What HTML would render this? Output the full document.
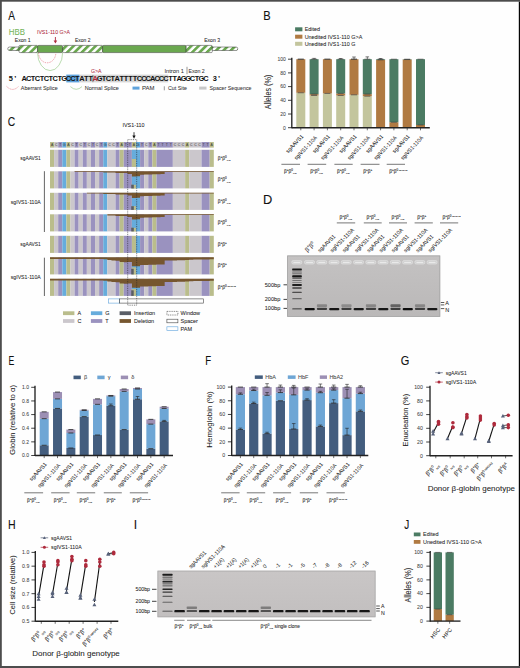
<!DOCTYPE html>
<html><head><meta charset="utf-8"><style>
html,body{margin:0;padding:0;background:#fff;width:520px;height:668px;overflow:hidden}
svg{display:block}
text{font-family:"Liberation Sans", sans-serif}
</style></head><body>
<svg width="520" height="668" viewBox="0 0 520 668">
<rect x="0" y="0" width="520" height="668" fill="#fefefe"/>
<text transform="translate(8.33,19.80) scale(0.828,1)" font-size="12.2" fill="#111" stroke="#111" stroke-width="0.1">A</text>
<text transform="translate(263.24,19.90) scale(0.909,1)" font-size="12.2" fill="#111" stroke="#111" stroke-width="0.1">B</text>
<text transform="translate(7.83,125.50) scale(0.842,1)" font-size="12.2" fill="#111" stroke="#111" stroke-width="0.1">C</text>
<text transform="translate(263.10,203.80) scale(1.052,1)" font-size="12.2" fill="#111" stroke="#111" stroke-width="0.1">D</text>
<text transform="translate(8.44,364.90) scale(0.711,1)" font-size="12.2" fill="#111" stroke="#111" stroke-width="0.1">E</text>
<text transform="translate(205.26,364.80) scale(0.788,1)" font-size="12.2" fill="#111" stroke="#111" stroke-width="0.1">F</text>
<text transform="translate(400.80,365.20) scale(0.904,1)" font-size="12.2" fill="#111" stroke="#111" stroke-width="0.1">G</text>
<text transform="translate(8.08,528.90) scale(0.865,1)" font-size="12.2" fill="#111" stroke="#111" stroke-width="0.1">H</text>
<text transform="translate(133.73,528.80) scale(1.000,1)" font-size="12.2" fill="#111" stroke="#111" stroke-width="0.1">I</text>
<text transform="translate(404.29,528.90) scale(0.820,1)" font-size="12.2" fill="#111" stroke="#111" stroke-width="0.1">J</text>
<text x="8.70" y="34.60" font-size="9.3" fill="#72b257" stroke="#72b257" stroke-width="0.05" textLength="16.20" lengthAdjust="spacingAndGlyphs" >HBB</text>
<text x="37.00" y="34.40" font-size="5.6" fill="#ae2a3c" stroke="#ae2a3c" stroke-width="0.05" textLength="33.00" lengthAdjust="spacingAndGlyphs" >IVS1-110 G&gt;A</text>
<line x1="55.40" y1="37.00" x2="55.40" y2="41.50" stroke="#ae2a3c" stroke-width="0.9" />
<path d="M53.6,40.6 L57.2,40.6 L55.4,43.6 Z" fill="#ae2a3c"/>
<text x="14.80" y="41.50" font-size="5.6" fill="#222" stroke="#222" stroke-width="0.05" textLength="15.90" lengthAdjust="spacingAndGlyphs" >Exon 1</text>
<text x="75.00" y="41.50" font-size="5.6" fill="#222" stroke="#222" stroke-width="0.05" textLength="15.50" lengthAdjust="spacingAndGlyphs" >Exon 2</text>
<text x="204.20" y="41.70" font-size="5.6" fill="#222" stroke="#222" stroke-width="0.05" textLength="15.80" lengthAdjust="spacingAndGlyphs" >Exon 3</text>
<defs>
<pattern id="hatch" patternUnits="userSpaceOnUse" width="5.2" height="5.2" patternTransform="rotate(45)">
<rect x="0" y="0" width="5.2" height="5.2" fill="#ffffff"/>
<rect x="0" y="0" width="2.7" height="5.2" fill="#6aa84f"/>
</pattern>
</defs>
<path d="M19.5,47.0 L9.5,47.0 A1.75,1.75 0 0 0 9.5,50.5 L19.5,50.5 Z" fill="url(#hatch)" stroke="#333" stroke-width="0.5"/>
<rect x="19" y="45.4" width="18.6" height="7.20" rx="1" fill="url(#hatch)" stroke="#333" stroke-width="0.5"/>
<rect x="37.6" y="45.4" width="25" height="7.20" rx="1.2" fill="#6aa84f" stroke="#333" stroke-width="0.5"/>
<rect x="62.6" y="45.4" width="40" height="7.20" rx="1" fill="url(#hatch)" stroke="#333" stroke-width="0.5"/>
<rect x="102.6" y="45.4" width="83.6" height="7.20" rx="1.2" fill="#6aa84f" stroke="#333" stroke-width="0.5"/>
<rect x="186.2" y="45.4" width="26.1" height="7.20" rx="1" fill="url(#hatch)" stroke="#333" stroke-width="0.5"/>
<path d="M212.3,47.0 L236,47.0 A1.75,1.75 0 0 1 236,50.5 L212.3,50.5 Z" fill="url(#hatch)" stroke="#333" stroke-width="0.5"/>
<path d="M37.6,52.8 A12.5,17.8 0 0 0 62.6,52.8" fill="none" stroke="#8cc47a" stroke-width="0.6"/>
<path d="M38.6,52.8 A8.6,10 0 0 0 55.8,52.8" fill="none" stroke="#e06070" stroke-width="0.6" stroke-dasharray="1.4,1"/>
<rect x="66.30" y="74.60" width="13.30" height="7.80" fill="#5fa3dc" />
<rect x="79.60" y="74.60" width="88.60" height="7.80" fill="#d6d6d6" />
<text x="10.91" y="81.0" font-size="7.4" font-family='"Liberation Mono", monospace' font-weight="bold" text-anchor="middle" fill="#111">5</text>
<text x="15.34" y="81.0" font-size="7.4" font-family='"Liberation Mono", monospace' font-weight="bold" text-anchor="middle" fill="#111">&#8217;</text>
<text x="24.20" y="81.0" font-size="7.4" font-family='"Liberation Mono", monospace' font-weight="bold" text-anchor="middle" fill="#111">A</text>
<text x="28.63" y="81.0" font-size="7.4" font-family='"Liberation Mono", monospace' font-weight="bold" text-anchor="middle" fill="#111">C</text>
<text x="33.06" y="81.0" font-size="7.4" font-family='"Liberation Mono", monospace' font-weight="bold" text-anchor="middle" fill="#111">T</text>
<text x="37.50" y="81.0" font-size="7.4" font-family='"Liberation Mono", monospace' font-weight="bold" text-anchor="middle" fill="#111">C</text>
<text x="41.92" y="81.0" font-size="7.4" font-family='"Liberation Mono", monospace' font-weight="bold" text-anchor="middle" fill="#111">T</text>
<text x="46.36" y="81.0" font-size="7.4" font-family='"Liberation Mono", monospace' font-weight="bold" text-anchor="middle" fill="#111">C</text>
<text x="50.78" y="81.0" font-size="7.4" font-family='"Liberation Mono", monospace' font-weight="bold" text-anchor="middle" fill="#111">T</text>
<text x="55.22" y="81.0" font-size="7.4" font-family='"Liberation Mono", monospace' font-weight="bold" text-anchor="middle" fill="#111">C</text>
<text x="59.64" y="81.0" font-size="7.4" font-family='"Liberation Mono", monospace' font-weight="bold" text-anchor="middle" fill="#111">T</text>
<text x="64.08" y="81.0" font-size="7.4" font-family='"Liberation Mono", monospace' font-weight="bold" text-anchor="middle" fill="#111">G</text>
<text x="68.50" y="81.0" font-size="7.4" font-family='"Liberation Mono", monospace' font-weight="bold" text-anchor="middle" fill="#111">C</text>
<text x="72.94" y="81.0" font-size="7.4" font-family='"Liberation Mono", monospace' font-weight="bold" text-anchor="middle" fill="#111">C</text>
<text x="77.36" y="81.0" font-size="7.4" font-family='"Liberation Mono", monospace' font-weight="bold" text-anchor="middle" fill="#111">T</text>
<text x="81.80" y="81.0" font-size="7.4" font-family='"Liberation Mono", monospace' font-weight="bold" text-anchor="middle" fill="#111">A</text>
<text x="86.23" y="81.0" font-size="7.4" font-family='"Liberation Mono", monospace' font-weight="bold" text-anchor="middle" fill="#111">T</text>
<text x="90.66" y="81.0" font-size="7.4" font-family='"Liberation Mono", monospace' font-weight="bold" text-anchor="middle" fill="#111">T</text>
<text x="95.08" y="81.0" font-size="7.4" font-family='"Liberation Mono", monospace' font-weight="bold" text-anchor="middle" fill="#ae2a3c">A</text>
<text x="99.52" y="81.0" font-size="7.4" font-family='"Liberation Mono", monospace' font-weight="bold" text-anchor="middle" fill="#111">G</text>
<text x="103.95" y="81.0" font-size="7.4" font-family='"Liberation Mono", monospace' font-weight="bold" text-anchor="middle" fill="#111">T</text>
<text x="108.38" y="81.0" font-size="7.4" font-family='"Liberation Mono", monospace' font-weight="bold" text-anchor="middle" fill="#111">C</text>
<text x="112.80" y="81.0" font-size="7.4" font-family='"Liberation Mono", monospace' font-weight="bold" text-anchor="middle" fill="#111">T</text>
<text x="117.23" y="81.0" font-size="7.4" font-family='"Liberation Mono", monospace' font-weight="bold" text-anchor="middle" fill="#111">A</text>
<text x="121.67" y="81.0" font-size="7.4" font-family='"Liberation Mono", monospace' font-weight="bold" text-anchor="middle" fill="#111">T</text>
<text x="126.09" y="81.0" font-size="7.4" font-family='"Liberation Mono", monospace' font-weight="bold" text-anchor="middle" fill="#111">T</text>
<text x="130.52" y="81.0" font-size="7.4" font-family='"Liberation Mono", monospace' font-weight="bold" text-anchor="middle" fill="#111">T</text>
<text x="134.95" y="81.0" font-size="7.4" font-family='"Liberation Mono", monospace' font-weight="bold" text-anchor="middle" fill="#111">T</text>
<text x="139.38" y="81.0" font-size="7.4" font-family='"Liberation Mono", monospace' font-weight="bold" text-anchor="middle" fill="#111">C</text>
<text x="143.81" y="81.0" font-size="7.4" font-family='"Liberation Mono", monospace' font-weight="bold" text-anchor="middle" fill="#111">C</text>
<text x="148.24" y="81.0" font-size="7.4" font-family='"Liberation Mono", monospace' font-weight="bold" text-anchor="middle" fill="#111">C</text>
<text x="152.67" y="81.0" font-size="7.4" font-family='"Liberation Mono", monospace' font-weight="bold" text-anchor="middle" fill="#111">A</text>
<text x="157.10" y="81.0" font-size="7.4" font-family='"Liberation Mono", monospace' font-weight="bold" text-anchor="middle" fill="#111">C</text>
<text x="161.53" y="81.0" font-size="7.4" font-family='"Liberation Mono", monospace' font-weight="bold" text-anchor="middle" fill="#111">C</text>
<text x="165.96" y="81.0" font-size="7.4" font-family='"Liberation Mono", monospace' font-weight="bold" text-anchor="middle" fill="#111">C</text>
<text x="170.39" y="81.0" font-size="7.4" font-family='"Liberation Mono", monospace' font-weight="bold" text-anchor="middle" fill="#111">T</text>
<text x="174.82" y="81.0" font-size="7.4" font-family='"Liberation Mono", monospace' font-weight="bold" text-anchor="middle" fill="#111">T</text>
<text x="179.25" y="81.0" font-size="7.4" font-family='"Liberation Mono", monospace' font-weight="bold" text-anchor="middle" fill="#111">A</text>
<text x="183.68" y="81.0" font-size="7.4" font-family='"Liberation Mono", monospace' font-weight="bold" text-anchor="middle" fill="#111">G</text>
<text x="188.11" y="81.0" font-size="7.4" font-family='"Liberation Mono", monospace' font-weight="bold" text-anchor="middle" fill="#111">G</text>
<text x="192.54" y="81.0" font-size="7.4" font-family='"Liberation Mono", monospace' font-weight="bold" text-anchor="middle" fill="#111">C</text>
<text x="196.97" y="81.0" font-size="7.4" font-family='"Liberation Mono", monospace' font-weight="bold" text-anchor="middle" fill="#111">T</text>
<text x="201.40" y="81.0" font-size="7.4" font-family='"Liberation Mono", monospace' font-weight="bold" text-anchor="middle" fill="#111">G</text>
<text x="205.83" y="81.0" font-size="7.4" font-family='"Liberation Mono", monospace' font-weight="bold" text-anchor="middle" fill="#111">C</text>
<text x="214.69" y="81.0" font-size="7.4" font-family='"Liberation Mono", monospace' font-weight="bold" text-anchor="middle" fill="#111">3</text>
<text x="219.12" y="81.0" font-size="7.4" font-family='"Liberation Mono", monospace' font-weight="bold" text-anchor="middle" fill="#111">&#8217;</text>
<line x1="92.90" y1="75.00" x2="92.90" y2="82.20" stroke="#333" stroke-width="0.5" />
<text x="91.00" y="73.30" font-size="5.0" fill="#ae2a3c" stroke="#ae2a3c" stroke-width="0.05" textLength="10.50" lengthAdjust="spacingAndGlyphs" >G&gt;A</text>
<text x="164.50" y="73.30" font-size="5.5" fill="#333" stroke="#333" stroke-width="0.05" textLength="19.30" lengthAdjust="spacingAndGlyphs" >Intron 1</text>
<line x1="187.00" y1="66.80" x2="187.00" y2="74.20" stroke="#333" stroke-width="0.5" />
<text x="188.40" y="73.30" font-size="5.5" fill="#333" stroke="#333" stroke-width="0.05" textLength="16.30" lengthAdjust="spacingAndGlyphs" >Exon 2</text>
<path d="M6.6,86.4 Q12.6,92.4 18.6,86.4" fill="none" stroke="#e06070" stroke-width="0.6" stroke-dasharray="1.3,0.9"/>
<text x="20.80" y="90.00" font-size="5.6" fill="#333" stroke="#333" stroke-width="0.05" textLength="36.90" lengthAdjust="spacingAndGlyphs" >Aberrant Splice</text>
<path d="M70.4,86.6 Q76.2,92 82,86.6" fill="none" stroke="#8cc47a" stroke-width="0.6"/>
<text x="84.70" y="90.00" font-size="5.6" fill="#333" stroke="#333" stroke-width="0.05" textLength="34.20" lengthAdjust="spacingAndGlyphs" >Normal Splice</text>
<rect x="132.50" y="86.60" width="7.00" height="3.00" fill="#5fa3dc" />
<text x="142.00" y="90.00" font-size="5.6" fill="#333" stroke="#333" stroke-width="0.05" textLength="12.50" lengthAdjust="spacingAndGlyphs" >PAM</text>
<line x1="164.30" y1="86.30" x2="164.30" y2="90.30" stroke="#333" stroke-width="0.5" />
<text x="168.00" y="90.00" font-size="5.6" fill="#333" stroke="#333" stroke-width="0.05" textLength="19.00" lengthAdjust="spacingAndGlyphs" >Cut Site</text>
<rect x="199.20" y="86.60" width="7.30" height="3.00" fill="#c8c8c8" />
<text x="209.50" y="90.00" font-size="5.6" fill="#333" stroke="#333" stroke-width="0.05" textLength="42.00" lengthAdjust="spacingAndGlyphs" >Spacer Sequence</text>
<rect x="295.10" y="27.30" width="7.30" height="4.00" fill="#4b7b63" />
<text x="304.70" y="31.20" font-size="5.4" fill="#222" stroke="#222" stroke-width="0.05" >Edited</text>
<rect x="295.10" y="34.70" width="7.30" height="4.00" fill="#b07a42" />
<text x="304.70" y="38.60" font-size="5.4" fill="#222" stroke="#222" stroke-width="0.05" >Unedited IVS1-110 G&gt;A</text>
<rect x="295.10" y="41.80" width="7.30" height="4.00" fill="#c3c59d" />
<text x="304.70" y="45.70" font-size="5.4" fill="#222" stroke="#222" stroke-width="0.05" >Unedited IVS1-110 G</text>
<rect x="296.30" y="92.77" width="9.00" height="34.94" fill="#c3c59d" />
<rect x="296.30" y="59.20" width="9.00" height="33.57" fill="#b07a42" />
<line x1="297.80" y1="92.77" x2="303.80" y2="92.77" stroke="#333" stroke-width="0.6" />
<line x1="297.80" y1="59.20" x2="303.80" y2="59.20" stroke="#333" stroke-width="0.6" />
<line x1="297.80" y1="59.20" x2="303.80" y2="59.20" stroke="#333" stroke-width="0.6" />
<line x1="300.80" y1="127.70" x2="300.80" y2="130.30" stroke="#111" stroke-width="0.6" />
<rect x="309.60" y="95.50" width="9.00" height="32.20" fill="#c3c59d" />
<rect x="309.60" y="94.13" width="9.00" height="1.37" fill="#b07a42" />
<rect x="309.60" y="59.20" width="9.00" height="34.94" fill="#4b7b63" />
<line x1="311.10" y1="95.50" x2="317.10" y2="95.50" stroke="#333" stroke-width="0.6" />
<line x1="311.10" y1="94.13" x2="317.10" y2="94.13" stroke="#333" stroke-width="0.6" />
<line x1="311.10" y1="59.20" x2="317.10" y2="59.20" stroke="#333" stroke-width="0.6" />
<line x1="314.10" y1="127.70" x2="314.10" y2="130.30" stroke="#111" stroke-width="0.6" />
<line x1="314.10" y1="59.20" x2="314.10" y2="58.38" stroke="#222" stroke-width="0.6" />
<line x1="312.30" y1="58.38" x2="315.90" y2="58.38" stroke="#222" stroke-width="0.6" />
<rect x="322.90" y="93.45" width="9.00" height="34.25" fill="#c3c59d" />
<rect x="322.90" y="59.20" width="9.00" height="34.25" fill="#b07a42" />
<line x1="324.40" y1="93.45" x2="330.40" y2="93.45" stroke="#333" stroke-width="0.6" />
<line x1="324.40" y1="59.20" x2="330.40" y2="59.20" stroke="#333" stroke-width="0.6" />
<line x1="324.40" y1="59.20" x2="330.40" y2="59.20" stroke="#333" stroke-width="0.6" />
<line x1="327.40" y1="127.70" x2="327.40" y2="130.30" stroke="#111" stroke-width="0.6" />
<rect x="336.20" y="95.50" width="9.00" height="32.20" fill="#c3c59d" />
<rect x="336.20" y="93.45" width="9.00" height="2.06" fill="#b07a42" />
<rect x="336.20" y="59.20" width="9.00" height="34.25" fill="#4b7b63" />
<line x1="337.70" y1="95.50" x2="343.70" y2="95.50" stroke="#333" stroke-width="0.6" />
<line x1="337.70" y1="93.45" x2="343.70" y2="93.45" stroke="#333" stroke-width="0.6" />
<line x1="337.70" y1="59.20" x2="343.70" y2="59.20" stroke="#333" stroke-width="0.6" />
<line x1="340.70" y1="127.70" x2="340.70" y2="130.30" stroke="#111" stroke-width="0.6" />
<line x1="340.70" y1="59.20" x2="340.70" y2="58.52" stroke="#222" stroke-width="0.6" />
<line x1="338.90" y1="58.52" x2="342.50" y2="58.52" stroke="#222" stroke-width="0.6" />
<rect x="349.50" y="94.82" width="9.00" height="32.88" fill="#c3c59d" />
<rect x="349.50" y="59.20" width="9.00" height="35.62" fill="#b07a42" />
<line x1="351.00" y1="94.82" x2="357.00" y2="94.82" stroke="#333" stroke-width="0.6" />
<line x1="351.00" y1="59.20" x2="357.00" y2="59.20" stroke="#333" stroke-width="0.6" />
<line x1="351.00" y1="59.20" x2="357.00" y2="59.20" stroke="#333" stroke-width="0.6" />
<line x1="354.00" y1="127.70" x2="354.00" y2="130.30" stroke="#111" stroke-width="0.6" />
<line x1="354.00" y1="59.20" x2="354.00" y2="57.01" stroke="#222" stroke-width="0.6" />
<line x1="352.20" y1="57.01" x2="355.80" y2="57.01" stroke="#222" stroke-width="0.6" />
<rect x="362.80" y="96.19" width="9.00" height="31.51" fill="#c3c59d" />
<rect x="362.80" y="94.13" width="9.00" height="2.06" fill="#b07a42" />
<rect x="362.80" y="59.20" width="9.00" height="34.94" fill="#4b7b63" />
<line x1="364.30" y1="96.19" x2="370.30" y2="96.19" stroke="#333" stroke-width="0.6" />
<line x1="364.30" y1="94.13" x2="370.30" y2="94.13" stroke="#333" stroke-width="0.6" />
<line x1="364.30" y1="59.20" x2="370.30" y2="59.20" stroke="#333" stroke-width="0.6" />
<line x1="367.30" y1="127.70" x2="367.30" y2="130.30" stroke="#111" stroke-width="0.6" />
<line x1="367.30" y1="59.20" x2="367.30" y2="56.87" stroke="#222" stroke-width="0.6" />
<line x1="365.50" y1="56.87" x2="369.10" y2="56.87" stroke="#222" stroke-width="0.6" />
<rect x="376.10" y="59.88" width="9.00" height="67.82" fill="#b07a42" />
<rect x="376.10" y="59.20" width="9.00" height="0.69" fill="#4b7b63" />
<line x1="377.60" y1="59.88" x2="383.60" y2="59.88" stroke="#333" stroke-width="0.6" />
<line x1="377.60" y1="59.20" x2="383.60" y2="59.20" stroke="#333" stroke-width="0.6" />
<line x1="380.60" y1="127.70" x2="380.60" y2="130.30" stroke="#111" stroke-width="0.6" />
<line x1="380.60" y1="59.20" x2="380.60" y2="58.52" stroke="#222" stroke-width="0.6" />
<line x1="378.80" y1="58.52" x2="382.40" y2="58.52" stroke="#222" stroke-width="0.6" />
<rect x="389.40" y="122.22" width="9.00" height="5.48" fill="#b07a42" />
<rect x="389.40" y="59.20" width="9.00" height="63.02" fill="#4b7b63" />
<line x1="390.90" y1="122.22" x2="396.90" y2="122.22" stroke="#333" stroke-width="0.6" />
<line x1="390.90" y1="59.20" x2="396.90" y2="59.20" stroke="#333" stroke-width="0.6" />
<line x1="393.90" y1="127.70" x2="393.90" y2="130.30" stroke="#111" stroke-width="0.6" />
<rect x="402.70" y="59.54" width="9.00" height="68.16" fill="#b07a42" />
<rect x="402.70" y="59.20" width="9.00" height="0.34" fill="#4b7b63" />
<line x1="404.20" y1="59.54" x2="410.20" y2="59.54" stroke="#333" stroke-width="0.6" />
<line x1="404.20" y1="59.20" x2="410.20" y2="59.20" stroke="#333" stroke-width="0.6" />
<line x1="407.20" y1="127.70" x2="407.20" y2="130.30" stroke="#111" stroke-width="0.6" />
<rect x="416.00" y="124.96" width="9.00" height="2.74" fill="#b07a42" />
<rect x="416.00" y="59.20" width="9.00" height="65.76" fill="#4b7b63" />
<line x1="417.50" y1="124.96" x2="423.50" y2="124.96" stroke="#333" stroke-width="0.6" />
<line x1="417.50" y1="59.20" x2="423.50" y2="59.20" stroke="#333" stroke-width="0.6" />
<line x1="420.50" y1="127.70" x2="420.50" y2="130.30" stroke="#111" stroke-width="0.6" />
<line x1="291.80" y1="57.70" x2="291.80" y2="128.30" stroke="#222" stroke-width="1.35" />
<line x1="288.00" y1="127.70" x2="291.80" y2="127.70" stroke="#111" stroke-width="0.8" />
<text x="285.80" y="129.50" font-size="5.0" fill="#444" stroke="#444" stroke-width="0.05" text-anchor="end" >0</text>
<line x1="288.00" y1="114.00" x2="291.80" y2="114.00" stroke="#111" stroke-width="0.8" />
<text x="285.80" y="115.80" font-size="5.0" fill="#444" stroke="#444" stroke-width="0.05" text-anchor="end" >20</text>
<line x1="288.00" y1="100.30" x2="291.80" y2="100.30" stroke="#111" stroke-width="0.8" />
<text x="285.80" y="102.10" font-size="5.0" fill="#444" stroke="#444" stroke-width="0.05" text-anchor="end" >40</text>
<line x1="288.00" y1="86.60" x2="291.80" y2="86.60" stroke="#111" stroke-width="0.8" />
<text x="285.80" y="88.40" font-size="5.0" fill="#444" stroke="#444" stroke-width="0.05" text-anchor="end" >60</text>
<line x1="288.00" y1="72.90" x2="291.80" y2="72.90" stroke="#111" stroke-width="0.8" />
<text x="285.80" y="74.70" font-size="5.0" fill="#444" stroke="#444" stroke-width="0.05" text-anchor="end" >80</text>
<line x1="288.00" y1="59.20" x2="291.80" y2="59.20" stroke="#111" stroke-width="0.8" />
<text x="285.80" y="61.00" font-size="5.0" fill="#444" stroke="#444" stroke-width="0.05" text-anchor="end" >100</text>
<line x1="291.80" y1="127.70" x2="429.80" y2="127.70" stroke="#222" stroke-width="1.35" />
<text transform="translate(271.00,92.00) rotate(-90)" font-size="8.6" fill="#222" stroke="#222" stroke-width="0.05" text-anchor="middle" textLength="34.50" lengthAdjust="spacingAndGlyphs" >Alleles (%)</text>
<text transform="translate(303.80,136.70) rotate(-47)" font-size="5.5" fill="#222" stroke="#222" stroke-width="0.05" text-anchor="end" textLength="23.00" lengthAdjust="spacingAndGlyphs" >sgAAVS1</text>
<text transform="translate(317.30,138.00) rotate(-47)" font-size="5.5" fill="#222" stroke="#222" stroke-width="0.05" text-anchor="end" textLength="30.50" lengthAdjust="spacingAndGlyphs" >sgIVS1-110A</text>
<text transform="translate(330.40,136.70) rotate(-47)" font-size="5.5" fill="#222" stroke="#222" stroke-width="0.05" text-anchor="end" textLength="23.00" lengthAdjust="spacingAndGlyphs" >sgAAVS1</text>
<text transform="translate(343.90,138.00) rotate(-47)" font-size="5.5" fill="#222" stroke="#222" stroke-width="0.05" text-anchor="end" textLength="30.50" lengthAdjust="spacingAndGlyphs" >sgIVS1-110A</text>
<text transform="translate(357.00,136.70) rotate(-47)" font-size="5.5" fill="#222" stroke="#222" stroke-width="0.05" text-anchor="end" textLength="23.00" lengthAdjust="spacingAndGlyphs" >sgAAVS1</text>
<text transform="translate(370.50,138.00) rotate(-47)" font-size="5.5" fill="#222" stroke="#222" stroke-width="0.05" text-anchor="end" textLength="30.50" lengthAdjust="spacingAndGlyphs" >sgIVS1-110A</text>
<text transform="translate(383.60,136.70) rotate(-47)" font-size="5.5" fill="#222" stroke="#222" stroke-width="0.05" text-anchor="end" textLength="23.00" lengthAdjust="spacingAndGlyphs" >sgAAVS1</text>
<text transform="translate(397.10,138.00) rotate(-47)" font-size="5.5" fill="#222" stroke="#222" stroke-width="0.05" text-anchor="end" textLength="30.50" lengthAdjust="spacingAndGlyphs" >sgIVS1-110A</text>
<text transform="translate(410.20,136.70) rotate(-47)" font-size="5.5" fill="#222" stroke="#222" stroke-width="0.05" text-anchor="end" textLength="23.00" lengthAdjust="spacingAndGlyphs" >sgAAVS1</text>
<text transform="translate(423.70,138.00) rotate(-47)" font-size="5.5" fill="#222" stroke="#222" stroke-width="0.05" text-anchor="end" textLength="30.50" lengthAdjust="spacingAndGlyphs" >sgIVS1-110A</text>
<line x1="281.40" y1="164.30" x2="300.00" y2="164.30" stroke="#555" stroke-width="0.8" />
<text x="284.00" y="172.60" font-size="4.8" fill="#333" stroke="#333" stroke-width="0.1">β<tspan font-size="2.98" dy="-2.02">+</tspan><tspan dy="2.02">β</tspan><tspan font-size="2.98" dy="-2.02">0</tspan><tspan font-size="2.32" dy="3.84">IVS</tspan></text>
<line x1="307.60" y1="164.30" x2="326.20" y2="164.30" stroke="#555" stroke-width="0.8" />
<text x="310.20" y="172.60" font-size="4.8" fill="#333" stroke="#333" stroke-width="0.1">β<tspan font-size="2.98" dy="-2.02">+</tspan><tspan dy="2.02">β</tspan><tspan font-size="2.98" dy="-2.02">0</tspan><tspan font-size="2.32" dy="3.84">IVS</tspan></text>
<line x1="334.40" y1="164.30" x2="352.70" y2="164.30" stroke="#555" stroke-width="0.8" />
<text x="337.00" y="172.60" font-size="4.8" fill="#333" stroke="#333" stroke-width="0.1">β<tspan font-size="2.98" dy="-2.02">+</tspan><tspan dy="2.02">β</tspan><tspan font-size="2.98" dy="-2.02">0</tspan><tspan font-size="2.32" dy="3.84">IVS</tspan></text>
<line x1="360.60" y1="164.30" x2="379.50" y2="164.30" stroke="#555" stroke-width="0.8" />
<text x="363.20" y="172.60" font-size="4.8" fill="#333" stroke="#333" stroke-width="0.1">β<tspan font-size="2.98" dy="-2.02">+</tspan><tspan dy="2.02">β</tspan><tspan font-size="2.98" dy="-2.02">+</tspan></text>
<line x1="386.70" y1="164.30" x2="405.00" y2="164.30" stroke="#555" stroke-width="0.8" />
<text x="389.30" y="172.60" font-size="4.8" fill="#333" stroke="#333" stroke-width="0.1">β<tspan font-size="2.98" dy="-2.02">+</tspan><tspan dy="2.02">β</tspan><tspan font-size="2.98" dy="-2.02">0</tspan><tspan font-size="2.38"> cd41/42</tspan></text>
<text x="122.50" y="127.30" font-size="5.4" fill="#222" stroke="#222" stroke-width="0.05" textLength="22.10" lengthAdjust="spacingAndGlyphs" >IVS1-110</text>
<line x1="134.00" y1="132.20" x2="134.00" y2="136.20" stroke="#111" stroke-width="0.8" />
<path d="M132.4,135.4 L135.6,135.4 L134.0,138.7 Z" fill="#111"/>
<rect x="50.00" y="142.00" width="4.09" height="5.60" fill="#babd8c" />
<rect x="54.09" y="142.00" width="4.09" height="5.60" fill="#cbc7cc" />
<rect x="58.19" y="142.00" width="4.10" height="5.60" fill="#9a92bf" />
<rect x="62.29" y="142.00" width="4.09" height="5.60" fill="#66acdc" />
<rect x="66.38" y="142.00" width="4.09" height="5.60" fill="#babd8c" />
<rect x="70.47" y="142.00" width="4.10" height="5.60" fill="#cbc7cc" />
<rect x="74.57" y="142.00" width="4.09" height="5.60" fill="#9a92bf" />
<rect x="78.67" y="142.00" width="4.09" height="5.60" fill="#cbc7cc" />
<rect x="82.76" y="142.00" width="4.09" height="5.60" fill="#9a92bf" />
<rect x="86.86" y="142.00" width="4.09" height="5.60" fill="#cbc7cc" />
<rect x="90.95" y="142.00" width="4.10" height="5.60" fill="#9a92bf" />
<rect x="95.05" y="142.00" width="4.09" height="5.60" fill="#cbc7cc" />
<rect x="99.14" y="142.00" width="4.09" height="5.60" fill="#9a92bf" />
<rect x="103.24" y="142.00" width="4.09" height="5.60" fill="#66acdc" />
<rect x="107.33" y="142.00" width="8.19" height="5.60" fill="#cbc7cc" />
<rect x="115.52" y="142.00" width="4.09" height="5.60" fill="#9a92bf" />
<rect x="119.62" y="142.00" width="4.09" height="5.60" fill="#babd8c" />
<rect x="123.71" y="142.00" width="8.19" height="5.60" fill="#9a92bf" />
<rect x="131.90" y="142.00" width="4.09" height="5.60" fill="#babd8c" />
<rect x="136.00" y="142.00" width="4.10" height="5.60" fill="#66acdc" />
<rect x="140.09" y="142.00" width="4.09" height="5.60" fill="#9a92bf" />
<rect x="144.19" y="142.00" width="4.10" height="5.60" fill="#cbc7cc" />
<rect x="148.28" y="142.00" width="4.09" height="5.60" fill="#9a92bf" />
<rect x="152.38" y="142.00" width="4.10" height="5.60" fill="#babd8c" />
<rect x="156.47" y="142.00" width="16.38" height="5.60" fill="#9a92bf" />
<rect x="172.85" y="142.00" width="12.28" height="5.60" fill="#cbc7cc" />
<rect x="185.14" y="142.00" width="4.09" height="5.60" fill="#babd8c" />
<rect x="189.23" y="142.00" width="12.28" height="5.60" fill="#cbc7cc" />
<rect x="201.52" y="142.00" width="8.19" height="5.60" fill="#9a92bf" />
<rect x="209.71" y="142.00" width="4.09" height="5.60" fill="#babd8c" />
<text x="52.05" y="146.3" font-size="3.4" fill="#333" text-anchor="middle">A</text>
<text x="56.14" y="146.3" font-size="3.4" fill="#333" text-anchor="middle">C</text>
<text x="60.24" y="146.3" font-size="3.4" fill="#333" text-anchor="middle">T</text>
<text x="64.33" y="146.3" font-size="3.4" fill="#333" text-anchor="middle">G</text>
<text x="68.43" y="146.3" font-size="3.4" fill="#333" text-anchor="middle">A</text>
<text x="72.52" y="146.3" font-size="3.4" fill="#333" text-anchor="middle">C</text>
<text x="76.62" y="146.3" font-size="3.4" fill="#333" text-anchor="middle">T</text>
<text x="80.71" y="146.3" font-size="3.4" fill="#333" text-anchor="middle">C</text>
<text x="84.81" y="146.3" font-size="3.4" fill="#333" text-anchor="middle">T</text>
<text x="88.90" y="146.3" font-size="3.4" fill="#333" text-anchor="middle">C</text>
<text x="93.00" y="146.3" font-size="3.4" fill="#333" text-anchor="middle">T</text>
<text x="97.09" y="146.3" font-size="3.4" fill="#333" text-anchor="middle">C</text>
<text x="101.19" y="146.3" font-size="3.4" fill="#333" text-anchor="middle">T</text>
<text x="105.28" y="146.3" font-size="3.4" fill="#333" text-anchor="middle">G</text>
<text x="109.38" y="146.3" font-size="3.4" fill="#333" text-anchor="middle">C</text>
<text x="113.47" y="146.3" font-size="3.4" fill="#333" text-anchor="middle">C</text>
<text x="117.57" y="146.3" font-size="3.4" fill="#333" text-anchor="middle">T</text>
<text x="121.66" y="146.3" font-size="3.4" fill="#333" text-anchor="middle">A</text>
<text x="125.76" y="146.3" font-size="3.4" fill="#333" text-anchor="middle">T</text>
<text x="129.85" y="146.3" font-size="3.4" fill="#333" text-anchor="middle">T</text>
<text x="133.95" y="146.3" font-size="3.4" fill="#333" text-anchor="middle">A</text>
<text x="138.04" y="146.3" font-size="3.4" fill="#333" text-anchor="middle">G</text>
<text x="142.14" y="146.3" font-size="3.4" fill="#333" text-anchor="middle">T</text>
<text x="146.23" y="146.3" font-size="3.4" fill="#333" text-anchor="middle">C</text>
<text x="150.33" y="146.3" font-size="3.4" fill="#333" text-anchor="middle">T</text>
<text x="154.42" y="146.3" font-size="3.4" fill="#333" text-anchor="middle">A</text>
<text x="158.52" y="146.3" font-size="3.4" fill="#333" text-anchor="middle">T</text>
<text x="162.61" y="146.3" font-size="3.4" fill="#333" text-anchor="middle">T</text>
<text x="166.71" y="146.3" font-size="3.4" fill="#333" text-anchor="middle">T</text>
<text x="170.80" y="146.3" font-size="3.4" fill="#333" text-anchor="middle">T</text>
<text x="174.90" y="146.3" font-size="3.4" fill="#333" text-anchor="middle">C</text>
<text x="178.99" y="146.3" font-size="3.4" fill="#333" text-anchor="middle">C</text>
<text x="183.09" y="146.3" font-size="3.4" fill="#333" text-anchor="middle">C</text>
<text x="187.18" y="146.3" font-size="3.4" fill="#333" text-anchor="middle">A</text>
<text x="191.28" y="146.3" font-size="3.4" fill="#333" text-anchor="middle">C</text>
<text x="195.37" y="146.3" font-size="3.4" fill="#333" text-anchor="middle">C</text>
<text x="199.47" y="146.3" font-size="3.4" fill="#333" text-anchor="middle">C</text>
<text x="203.56" y="146.3" font-size="3.4" fill="#333" text-anchor="middle">T</text>
<text x="207.66" y="146.3" font-size="3.4" fill="#333" text-anchor="middle">T</text>
<text x="211.75" y="146.3" font-size="3.4" fill="#333" text-anchor="middle">A</text>
<rect x="50.00" y="149.80" width="4.09" height="17.10" fill="#babd8c" />
<rect x="54.09" y="149.80" width="4.09" height="17.10" fill="#cbc7cc" />
<rect x="58.19" y="149.80" width="4.10" height="17.10" fill="#9a92bf" />
<rect x="62.29" y="149.80" width="4.09" height="17.10" fill="#66acdc" />
<rect x="66.38" y="149.80" width="4.09" height="17.10" fill="#babd8c" />
<rect x="70.47" y="149.80" width="4.10" height="17.10" fill="#cbc7cc" />
<rect x="74.57" y="149.80" width="4.09" height="17.10" fill="#9a92bf" />
<rect x="78.67" y="149.80" width="4.09" height="17.10" fill="#cbc7cc" />
<rect x="82.76" y="149.80" width="4.09" height="17.10" fill="#9a92bf" />
<rect x="86.86" y="149.80" width="4.09" height="17.10" fill="#cbc7cc" />
<rect x="90.95" y="149.80" width="4.10" height="17.10" fill="#9a92bf" />
<rect x="95.05" y="149.80" width="4.09" height="17.10" fill="#cbc7cc" />
<rect x="99.14" y="149.80" width="4.09" height="17.10" fill="#9a92bf" />
<rect x="103.24" y="149.80" width="4.09" height="17.10" fill="#66acdc" />
<rect x="107.33" y="149.80" width="8.19" height="17.10" fill="#cbc7cc" />
<rect x="115.52" y="149.80" width="4.09" height="17.10" fill="#9a92bf" />
<rect x="119.62" y="149.80" width="4.09" height="17.10" fill="#babd8c" />
<rect x="123.71" y="149.80" width="8.19" height="17.10" fill="#9a92bf" />
<rect x="131.90" y="149.80" width="4.09" height="17.10" fill="#babd8c" />
<rect x="136.00" y="149.80" width="4.10" height="17.10" fill="#66acdc" />
<rect x="140.09" y="149.80" width="4.09" height="17.10" fill="#9a92bf" />
<rect x="144.19" y="149.80" width="4.10" height="17.10" fill="#cbc7cc" />
<rect x="148.28" y="149.80" width="4.09" height="17.10" fill="#9a92bf" />
<rect x="152.38" y="149.80" width="4.10" height="17.10" fill="#babd8c" />
<rect x="156.47" y="149.80" width="16.38" height="17.10" fill="#9a92bf" />
<rect x="172.85" y="149.80" width="12.28" height="17.10" fill="#cbc7cc" />
<rect x="185.14" y="149.80" width="4.09" height="17.10" fill="#babd8c" />
<rect x="189.23" y="149.80" width="12.28" height="17.10" fill="#cbc7cc" />
<rect x="201.52" y="149.80" width="8.19" height="17.10" fill="#9a92bf" />
<rect x="209.71" y="149.80" width="4.09" height="17.10" fill="#babd8c" />
<rect x="131.90" y="149.80" width="4.10" height="9.20" fill="#66acdc" />
<rect x="131.90" y="159.00" width="4.10" height="7.90" fill="#babd8c" />
<rect x="50.00" y="171.30" width="4.09" height="17.10" fill="#babd8c" />
<rect x="54.09" y="171.30" width="4.09" height="17.10" fill="#cbc7cc" />
<rect x="58.19" y="171.30" width="4.10" height="17.10" fill="#9a92bf" />
<rect x="62.29" y="171.30" width="4.09" height="17.10" fill="#66acdc" />
<rect x="66.38" y="171.30" width="4.09" height="17.10" fill="#babd8c" />
<rect x="70.47" y="171.30" width="4.10" height="17.10" fill="#cbc7cc" />
<rect x="74.57" y="171.30" width="4.09" height="17.10" fill="#9a92bf" />
<rect x="78.67" y="171.30" width="4.09" height="17.10" fill="#cbc7cc" />
<rect x="82.76" y="171.30" width="4.09" height="17.10" fill="#9a92bf" />
<rect x="86.86" y="171.30" width="4.09" height="17.10" fill="#cbc7cc" />
<rect x="90.95" y="171.30" width="4.10" height="17.10" fill="#9a92bf" />
<rect x="95.05" y="171.30" width="4.09" height="17.10" fill="#cbc7cc" />
<rect x="99.14" y="171.30" width="4.09" height="17.10" fill="#9a92bf" />
<rect x="103.24" y="171.30" width="4.09" height="17.10" fill="#66acdc" />
<rect x="107.33" y="171.30" width="8.19" height="17.10" fill="#cbc7cc" />
<rect x="115.52" y="171.30" width="4.09" height="17.10" fill="#9a92bf" />
<rect x="119.62" y="171.30" width="4.09" height="17.10" fill="#babd8c" />
<rect x="123.71" y="171.30" width="8.19" height="17.10" fill="#9a92bf" />
<rect x="131.90" y="171.30" width="4.09" height="17.10" fill="#babd8c" />
<rect x="136.00" y="171.30" width="4.10" height="17.10" fill="#66acdc" />
<rect x="140.09" y="171.30" width="4.09" height="17.10" fill="#9a92bf" />
<rect x="144.19" y="171.30" width="4.10" height="17.10" fill="#cbc7cc" />
<rect x="148.28" y="171.30" width="4.09" height="17.10" fill="#9a92bf" />
<rect x="152.38" y="171.30" width="4.10" height="17.10" fill="#babd8c" />
<rect x="156.47" y="171.30" width="16.38" height="17.10" fill="#9a92bf" />
<rect x="172.85" y="171.30" width="12.28" height="17.10" fill="#cbc7cc" />
<rect x="185.14" y="171.30" width="4.09" height="17.10" fill="#babd8c" />
<rect x="189.23" y="171.30" width="12.28" height="17.10" fill="#cbc7cc" />
<rect x="201.52" y="171.30" width="8.19" height="17.10" fill="#9a92bf" />
<rect x="209.71" y="171.30" width="4.09" height="17.10" fill="#babd8c" />
<rect x="131.90" y="171.30" width="4.10" height="13.60" fill="#66acdc" />
<rect x="131.90" y="184.90" width="4.10" height="3.50" fill="#babd8c" />
<rect x="131.20" y="184.70" width="2.60" height="3.70" fill="#595d66" />
<polygon points="74.57,171.30 213.80,171.30 213.80,172.00 209.71,172.00 209.71,172.00 205.61,172.00 205.61,172.00 201.52,172.00 201.52,172.00 197.42,172.00 197.42,172.00 193.33,172.00 193.33,172.00 189.23,172.00 189.23,172.00 185.14,172.00 185.14,172.00 181.04,172.00 181.04,172.00 176.95,172.00 176.95,172.00 172.85,172.00 172.85,172.00 168.76,172.00 168.76,172.00 164.66,172.00 164.66,174.10 160.56,174.10 160.56,174.22 156.47,174.22 156.47,174.34 152.38,174.34 152.38,174.46 148.28,174.46 148.28,174.58 144.19,174.58 144.19,174.70 140.09,174.70 140.09,176.30 136.00,176.30 136.00,176.60 131.90,176.60 131.90,173.90 127.81,173.90 127.81,172.90 123.71,172.90 123.71,172.90 119.62,172.90 119.62,172.90 115.52,172.90 115.52,172.50 111.43,172.50 111.43,172.50 107.33,172.50 107.33,172.50 103.24,172.50 103.24,172.10 99.14,172.10 99.14,172.10 95.05,172.10 95.05,172.10 90.95,172.10 90.95,172.10 86.86,172.10 86.86,172.10 82.76,172.10 82.76,172.10 78.67,172.10 78.67,172.10 74.57,172.10" fill="#76562f"/>
<rect x="50.00" y="192.80" width="4.09" height="17.10" fill="#babd8c" />
<rect x="54.09" y="192.80" width="4.09" height="17.10" fill="#cbc7cc" />
<rect x="58.19" y="192.80" width="4.10" height="17.10" fill="#9a92bf" />
<rect x="62.29" y="192.80" width="4.09" height="17.10" fill="#66acdc" />
<rect x="66.38" y="192.80" width="4.09" height="17.10" fill="#babd8c" />
<rect x="70.47" y="192.80" width="4.10" height="17.10" fill="#cbc7cc" />
<rect x="74.57" y="192.80" width="4.09" height="17.10" fill="#9a92bf" />
<rect x="78.67" y="192.80" width="4.09" height="17.10" fill="#cbc7cc" />
<rect x="82.76" y="192.80" width="4.09" height="17.10" fill="#9a92bf" />
<rect x="86.86" y="192.80" width="4.09" height="17.10" fill="#cbc7cc" />
<rect x="90.95" y="192.80" width="4.10" height="17.10" fill="#9a92bf" />
<rect x="95.05" y="192.80" width="4.09" height="17.10" fill="#cbc7cc" />
<rect x="99.14" y="192.80" width="4.09" height="17.10" fill="#9a92bf" />
<rect x="103.24" y="192.80" width="4.09" height="17.10" fill="#66acdc" />
<rect x="107.33" y="192.80" width="8.19" height="17.10" fill="#cbc7cc" />
<rect x="115.52" y="192.80" width="4.09" height="17.10" fill="#9a92bf" />
<rect x="119.62" y="192.80" width="4.09" height="17.10" fill="#babd8c" />
<rect x="123.71" y="192.80" width="8.19" height="17.10" fill="#9a92bf" />
<rect x="131.90" y="192.80" width="4.09" height="17.10" fill="#babd8c" />
<rect x="136.00" y="192.80" width="4.10" height="17.10" fill="#66acdc" />
<rect x="140.09" y="192.80" width="4.09" height="17.10" fill="#9a92bf" />
<rect x="144.19" y="192.80" width="4.10" height="17.10" fill="#cbc7cc" />
<rect x="148.28" y="192.80" width="4.09" height="17.10" fill="#9a92bf" />
<rect x="152.38" y="192.80" width="4.10" height="17.10" fill="#babd8c" />
<rect x="156.47" y="192.80" width="16.38" height="17.10" fill="#9a92bf" />
<rect x="172.85" y="192.80" width="12.28" height="17.10" fill="#cbc7cc" />
<rect x="185.14" y="192.80" width="4.09" height="17.10" fill="#babd8c" />
<rect x="189.23" y="192.80" width="12.28" height="17.10" fill="#cbc7cc" />
<rect x="201.52" y="192.80" width="8.19" height="17.10" fill="#9a92bf" />
<rect x="209.71" y="192.80" width="4.09" height="17.10" fill="#babd8c" />
<rect x="131.90" y="192.80" width="4.10" height="13.60" fill="#66acdc" />
<rect x="131.90" y="206.40" width="4.10" height="3.50" fill="#babd8c" />
<rect x="131.20" y="206.20" width="2.60" height="3.70" fill="#595d66" />
<polygon points="86.86,192.80 213.80,192.80 213.80,193.50 209.71,193.50 209.71,193.50 205.61,193.50 205.61,193.50 201.52,193.50 201.52,193.50 197.42,193.50 197.42,193.50 193.33,193.50 193.33,193.50 189.23,193.50 189.23,193.50 185.14,193.50 185.14,193.50 181.04,193.50 181.04,193.50 176.95,193.50 176.95,193.50 172.85,193.50 172.85,193.50 168.76,193.50 168.76,193.50 164.66,193.50 164.66,195.60 160.56,195.60 160.56,195.72 156.47,195.72 156.47,195.84 152.38,195.84 152.38,195.96 148.28,195.96 148.28,196.08 144.19,196.08 144.19,196.20 140.09,196.20 140.09,197.80 136.00,197.80 136.00,198.10 131.90,198.10 131.90,195.40 127.81,195.40 127.81,194.40 123.71,194.40 123.71,194.40 119.62,194.40 119.62,194.40 115.52,194.40 115.52,194.00 111.43,194.00 111.43,194.00 107.33,194.00 107.33,194.00 103.24,194.00 103.24,193.60 99.14,193.60 99.14,193.60 95.05,193.60 95.05,193.60 90.95,193.60 90.95,193.60 86.86,193.60" fill="#76562f"/>
<rect x="50.00" y="214.30" width="4.09" height="17.10" fill="#babd8c" />
<rect x="54.09" y="214.30" width="4.09" height="17.10" fill="#cbc7cc" />
<rect x="58.19" y="214.30" width="4.10" height="17.10" fill="#9a92bf" />
<rect x="62.29" y="214.30" width="4.09" height="17.10" fill="#66acdc" />
<rect x="66.38" y="214.30" width="4.09" height="17.10" fill="#babd8c" />
<rect x="70.47" y="214.30" width="4.10" height="17.10" fill="#cbc7cc" />
<rect x="74.57" y="214.30" width="4.09" height="17.10" fill="#9a92bf" />
<rect x="78.67" y="214.30" width="4.09" height="17.10" fill="#cbc7cc" />
<rect x="82.76" y="214.30" width="4.09" height="17.10" fill="#9a92bf" />
<rect x="86.86" y="214.30" width="4.09" height="17.10" fill="#cbc7cc" />
<rect x="90.95" y="214.30" width="4.10" height="17.10" fill="#9a92bf" />
<rect x="95.05" y="214.30" width="4.09" height="17.10" fill="#cbc7cc" />
<rect x="99.14" y="214.30" width="4.09" height="17.10" fill="#9a92bf" />
<rect x="103.24" y="214.30" width="4.09" height="17.10" fill="#66acdc" />
<rect x="107.33" y="214.30" width="8.19" height="17.10" fill="#cbc7cc" />
<rect x="115.52" y="214.30" width="4.09" height="17.10" fill="#9a92bf" />
<rect x="119.62" y="214.30" width="4.09" height="17.10" fill="#babd8c" />
<rect x="123.71" y="214.30" width="8.19" height="17.10" fill="#9a92bf" />
<rect x="131.90" y="214.30" width="4.09" height="17.10" fill="#babd8c" />
<rect x="136.00" y="214.30" width="4.10" height="17.10" fill="#66acdc" />
<rect x="140.09" y="214.30" width="4.09" height="17.10" fill="#9a92bf" />
<rect x="144.19" y="214.30" width="4.10" height="17.10" fill="#cbc7cc" />
<rect x="148.28" y="214.30" width="4.09" height="17.10" fill="#9a92bf" />
<rect x="152.38" y="214.30" width="4.10" height="17.10" fill="#babd8c" />
<rect x="156.47" y="214.30" width="16.38" height="17.10" fill="#9a92bf" />
<rect x="172.85" y="214.30" width="12.28" height="17.10" fill="#cbc7cc" />
<rect x="185.14" y="214.30" width="4.09" height="17.10" fill="#babd8c" />
<rect x="189.23" y="214.30" width="12.28" height="17.10" fill="#cbc7cc" />
<rect x="201.52" y="214.30" width="8.19" height="17.10" fill="#9a92bf" />
<rect x="209.71" y="214.30" width="4.09" height="17.10" fill="#babd8c" />
<rect x="131.90" y="214.30" width="4.10" height="13.60" fill="#66acdc" />
<rect x="131.90" y="227.90" width="4.10" height="3.50" fill="#babd8c" />
<rect x="131.20" y="227.70" width="2.60" height="3.70" fill="#595d66" />
<polygon points="107.33,214.30 213.80,214.30 213.80,215.00 209.71,215.00 209.71,215.00 205.61,215.00 205.61,215.00 201.52,215.00 201.52,215.00 197.42,215.00 197.42,215.00 193.33,215.00 193.33,215.00 189.23,215.00 189.23,215.00 185.14,215.00 185.14,215.00 181.04,215.00 181.04,215.00 176.95,215.00 176.95,215.00 172.85,215.00 172.85,215.00 168.76,215.00 168.76,215.00 164.66,215.00 164.66,217.10 160.56,217.10 160.56,217.22 156.47,217.22 156.47,217.34 152.38,217.34 152.38,217.46 148.28,217.46 148.28,217.58 144.19,217.58 144.19,217.70 140.09,217.70 140.09,219.30 136.00,219.30 136.00,219.60 131.90,219.60 131.90,216.90 127.81,216.90 127.81,215.90 123.71,215.90 123.71,215.90 119.62,215.90 119.62,215.90 115.52,215.90 115.52,215.50 111.43,215.50 111.43,215.50 107.33,215.50" fill="#76562f"/>
<rect x="50.00" y="235.80" width="4.09" height="17.10" fill="#babd8c" />
<rect x="54.09" y="235.80" width="4.09" height="17.10" fill="#cbc7cc" />
<rect x="58.19" y="235.80" width="4.10" height="17.10" fill="#9a92bf" />
<rect x="62.29" y="235.80" width="4.09" height="17.10" fill="#66acdc" />
<rect x="66.38" y="235.80" width="4.09" height="17.10" fill="#babd8c" />
<rect x="70.47" y="235.80" width="4.10" height="17.10" fill="#cbc7cc" />
<rect x="74.57" y="235.80" width="4.09" height="17.10" fill="#9a92bf" />
<rect x="78.67" y="235.80" width="4.09" height="17.10" fill="#cbc7cc" />
<rect x="82.76" y="235.80" width="4.09" height="17.10" fill="#9a92bf" />
<rect x="86.86" y="235.80" width="4.09" height="17.10" fill="#cbc7cc" />
<rect x="90.95" y="235.80" width="4.10" height="17.10" fill="#9a92bf" />
<rect x="95.05" y="235.80" width="4.09" height="17.10" fill="#cbc7cc" />
<rect x="99.14" y="235.80" width="4.09" height="17.10" fill="#9a92bf" />
<rect x="103.24" y="235.80" width="4.09" height="17.10" fill="#66acdc" />
<rect x="107.33" y="235.80" width="8.19" height="17.10" fill="#cbc7cc" />
<rect x="115.52" y="235.80" width="4.09" height="17.10" fill="#9a92bf" />
<rect x="119.62" y="235.80" width="4.09" height="17.10" fill="#babd8c" />
<rect x="123.71" y="235.80" width="8.19" height="17.10" fill="#9a92bf" />
<rect x="131.90" y="235.80" width="4.09" height="17.10" fill="#babd8c" />
<rect x="136.00" y="235.80" width="4.10" height="17.10" fill="#66acdc" />
<rect x="140.09" y="235.80" width="4.09" height="17.10" fill="#9a92bf" />
<rect x="144.19" y="235.80" width="4.10" height="17.10" fill="#cbc7cc" />
<rect x="148.28" y="235.80" width="4.09" height="17.10" fill="#9a92bf" />
<rect x="152.38" y="235.80" width="4.10" height="17.10" fill="#babd8c" />
<rect x="156.47" y="235.80" width="16.38" height="17.10" fill="#9a92bf" />
<rect x="172.85" y="235.80" width="12.28" height="17.10" fill="#cbc7cc" />
<rect x="185.14" y="235.80" width="4.09" height="17.10" fill="#babd8c" />
<rect x="189.23" y="235.80" width="12.28" height="17.10" fill="#cbc7cc" />
<rect x="201.52" y="235.80" width="8.19" height="17.10" fill="#9a92bf" />
<rect x="209.71" y="235.80" width="4.09" height="17.10" fill="#babd8c" />
<rect x="50.00" y="257.30" width="4.09" height="17.10" fill="#babd8c" />
<rect x="54.09" y="257.30" width="4.09" height="17.10" fill="#cbc7cc" />
<rect x="58.19" y="257.30" width="4.10" height="17.10" fill="#9a92bf" />
<rect x="62.29" y="257.30" width="4.09" height="17.10" fill="#66acdc" />
<rect x="66.38" y="257.30" width="4.09" height="17.10" fill="#babd8c" />
<rect x="70.47" y="257.30" width="4.10" height="17.10" fill="#cbc7cc" />
<rect x="74.57" y="257.30" width="4.09" height="17.10" fill="#9a92bf" />
<rect x="78.67" y="257.30" width="4.09" height="17.10" fill="#cbc7cc" />
<rect x="82.76" y="257.30" width="4.09" height="17.10" fill="#9a92bf" />
<rect x="86.86" y="257.30" width="4.09" height="17.10" fill="#cbc7cc" />
<rect x="90.95" y="257.30" width="4.10" height="17.10" fill="#9a92bf" />
<rect x="95.05" y="257.30" width="4.09" height="17.10" fill="#cbc7cc" />
<rect x="99.14" y="257.30" width="4.09" height="17.10" fill="#9a92bf" />
<rect x="103.24" y="257.30" width="4.09" height="17.10" fill="#66acdc" />
<rect x="107.33" y="257.30" width="8.19" height="17.10" fill="#cbc7cc" />
<rect x="115.52" y="257.30" width="4.09" height="17.10" fill="#9a92bf" />
<rect x="119.62" y="257.30" width="4.09" height="17.10" fill="#babd8c" />
<rect x="123.71" y="257.30" width="8.19" height="17.10" fill="#9a92bf" />
<rect x="131.90" y="257.30" width="4.09" height="17.10" fill="#babd8c" />
<rect x="136.00" y="257.30" width="4.10" height="17.10" fill="#66acdc" />
<rect x="140.09" y="257.30" width="4.09" height="17.10" fill="#9a92bf" />
<rect x="144.19" y="257.30" width="4.10" height="17.10" fill="#cbc7cc" />
<rect x="148.28" y="257.30" width="4.09" height="17.10" fill="#9a92bf" />
<rect x="152.38" y="257.30" width="4.10" height="17.10" fill="#babd8c" />
<rect x="156.47" y="257.30" width="16.38" height="17.10" fill="#9a92bf" />
<rect x="172.85" y="257.30" width="12.28" height="17.10" fill="#cbc7cc" />
<rect x="185.14" y="257.30" width="4.09" height="17.10" fill="#babd8c" />
<rect x="189.23" y="257.30" width="12.28" height="17.10" fill="#cbc7cc" />
<rect x="201.52" y="257.30" width="8.19" height="17.10" fill="#9a92bf" />
<rect x="209.71" y="257.30" width="4.09" height="17.10" fill="#babd8c" />
<rect x="131.90" y="257.30" width="4.10" height="10.30" fill="#66acdc" />
<rect x="131.90" y="267.60" width="4.10" height="6.80" fill="#babd8c" />
<rect x="131.20" y="268.80" width="2.50" height="5.60" fill="#595d66" />
<polygon points="50.00,257.30 213.80,257.30 213.80,259.30 209.71,259.30 209.71,259.38 205.61,259.38 205.61,259.46 201.52,259.46 201.52,259.54 197.42,259.54 197.42,259.62 193.33,259.62 193.33,259.70 189.23,259.70 189.23,260.10 185.14,260.10 185.14,260.20 181.04,260.20 181.04,260.30 176.95,260.30 176.95,260.40 172.85,260.40 172.85,260.50 168.76,260.50 168.76,260.60 164.66,260.60 164.66,264.40 160.56,264.40 160.56,264.52 156.47,264.52 156.47,264.64 152.38,264.64 152.38,264.76 148.28,264.76 148.28,264.88 144.19,264.88 144.19,265.00 140.09,265.00 140.09,266.30 136.00,266.30 136.00,266.30 131.90,266.30 131.90,262.00 127.81,262.00 127.81,262.30 123.71,262.30 123.71,261.90 119.62,261.90 119.62,260.80 115.52,260.80 115.52,260.50 111.43,260.50 111.43,260.00 107.33,260.00 107.33,259.20 103.24,259.20 103.24,259.00 99.14,259.00 99.14,259.00 95.05,259.00 95.05,259.00 90.95,259.00 90.95,259.00 86.86,259.00 86.86,259.00 82.76,259.00 82.76,259.00 78.67,259.00 78.67,259.00 74.57,259.00 74.57,259.00 70.47,259.00 70.47,259.00 66.38,259.00 66.38,259.00 62.29,259.00 62.29,259.00 58.19,259.00 58.19,259.00 54.09,259.00 54.09,259.00 50.00,259.00" fill="#76562f"/>
<rect x="50.00" y="278.80" width="4.09" height="17.10" fill="#babd8c" />
<rect x="54.09" y="278.80" width="4.09" height="17.10" fill="#cbc7cc" />
<rect x="58.19" y="278.80" width="4.10" height="17.10" fill="#9a92bf" />
<rect x="62.29" y="278.80" width="4.09" height="17.10" fill="#66acdc" />
<rect x="66.38" y="278.80" width="4.09" height="17.10" fill="#babd8c" />
<rect x="70.47" y="278.80" width="4.10" height="17.10" fill="#cbc7cc" />
<rect x="74.57" y="278.80" width="4.09" height="17.10" fill="#9a92bf" />
<rect x="78.67" y="278.80" width="4.09" height="17.10" fill="#cbc7cc" />
<rect x="82.76" y="278.80" width="4.09" height="17.10" fill="#9a92bf" />
<rect x="86.86" y="278.80" width="4.09" height="17.10" fill="#cbc7cc" />
<rect x="90.95" y="278.80" width="4.10" height="17.10" fill="#9a92bf" />
<rect x="95.05" y="278.80" width="4.09" height="17.10" fill="#cbc7cc" />
<rect x="99.14" y="278.80" width="4.09" height="17.10" fill="#9a92bf" />
<rect x="103.24" y="278.80" width="4.09" height="17.10" fill="#66acdc" />
<rect x="107.33" y="278.80" width="8.19" height="17.10" fill="#cbc7cc" />
<rect x="115.52" y="278.80" width="4.09" height="17.10" fill="#9a92bf" />
<rect x="119.62" y="278.80" width="4.09" height="17.10" fill="#babd8c" />
<rect x="123.71" y="278.80" width="8.19" height="17.10" fill="#9a92bf" />
<rect x="131.90" y="278.80" width="4.09" height="17.10" fill="#babd8c" />
<rect x="136.00" y="278.80" width="4.10" height="17.10" fill="#66acdc" />
<rect x="140.09" y="278.80" width="4.09" height="17.10" fill="#9a92bf" />
<rect x="144.19" y="278.80" width="4.10" height="17.10" fill="#cbc7cc" />
<rect x="148.28" y="278.80" width="4.09" height="17.10" fill="#9a92bf" />
<rect x="152.38" y="278.80" width="4.10" height="17.10" fill="#babd8c" />
<rect x="156.47" y="278.80" width="16.38" height="17.10" fill="#9a92bf" />
<rect x="172.85" y="278.80" width="12.28" height="17.10" fill="#cbc7cc" />
<rect x="185.14" y="278.80" width="4.09" height="17.10" fill="#babd8c" />
<rect x="189.23" y="278.80" width="12.28" height="17.10" fill="#cbc7cc" />
<rect x="201.52" y="278.80" width="8.19" height="17.10" fill="#9a92bf" />
<rect x="209.71" y="278.80" width="4.09" height="17.10" fill="#babd8c" />
<rect x="131.90" y="278.80" width="4.10" height="10.30" fill="#66acdc" />
<rect x="131.90" y="289.10" width="4.10" height="6.80" fill="#babd8c" />
<rect x="131.20" y="290.30" width="2.50" height="5.60" fill="#595d66" />
<polygon points="50.00,278.80 213.80,278.80 213.80,280.80 209.71,280.80 209.71,280.88 205.61,280.88 205.61,280.96 201.52,280.96 201.52,281.04 197.42,281.04 197.42,281.12 193.33,281.12 193.33,281.20 189.23,281.20 189.23,281.60 185.14,281.60 185.14,281.70 181.04,281.70 181.04,281.80 176.95,281.80 176.95,281.90 172.85,281.90 172.85,282.00 168.76,282.00 168.76,282.10 164.66,282.10 164.66,285.90 160.56,285.90 160.56,286.02 156.47,286.02 156.47,286.14 152.38,286.14 152.38,286.26 148.28,286.26 148.28,286.38 144.19,286.38 144.19,286.50 140.09,286.50 140.09,287.80 136.00,287.80 136.00,287.80 131.90,287.80 131.90,283.50 127.81,283.50 127.81,283.80 123.71,283.80 123.71,283.40 119.62,283.40 119.62,282.30 115.52,282.30 115.52,282.00 111.43,282.00 111.43,281.50 107.33,281.50 107.33,280.70 103.24,280.70 103.24,280.50 99.14,280.50 99.14,280.50 95.05,280.50 95.05,280.50 90.95,280.50 90.95,280.50 86.86,280.50 86.86,280.50 82.76,280.50 82.76,280.50 78.67,280.50 78.67,280.50 74.57,280.50 74.57,280.50 70.47,280.50 70.47,280.50 66.38,280.50 66.38,280.50 62.29,280.50 62.29,280.50 58.19,280.50 58.19,280.50 54.09,280.50 54.09,280.50 50.00,280.50" fill="#76562f"/>
<rect x="127.7" y="139.6" width="9.0" height="165.6" fill="none" stroke="#222" stroke-width="0.6" stroke-dasharray="0.9,0.9"/>
<rect x="108.4" y="298.9" width="11.2" height="4.2" fill="none" stroke="#5fa3dc" stroke-width="0.6"/>
<rect x="119.6" y="298.9" width="84.0" height="4.2" fill="none" stroke="#444" stroke-width="0.6"/>
<text x="40.80" y="160.00" font-size="5.5" fill="#222" stroke="#222" stroke-width="0.05" text-anchor="end" textLength="20.50" lengthAdjust="spacingAndGlyphs" >sgAAVS1</text>
<text x="40.80" y="204.00" font-size="5.5" fill="#222" stroke="#222" stroke-width="0.05" text-anchor="end" textLength="30.00" lengthAdjust="spacingAndGlyphs" >sgIVS1-110A</text>
<line x1="44.40" y1="171.20" x2="44.40" y2="232.00" stroke="#222" stroke-width="0.7" />
<text x="40.80" y="246.30" font-size="5.5" fill="#222" stroke="#222" stroke-width="0.05" text-anchor="end" textLength="20.50" lengthAdjust="spacingAndGlyphs" >sgAAVS1</text>
<text x="40.80" y="279.00" font-size="5.5" fill="#222" stroke="#222" stroke-width="0.05" text-anchor="end" textLength="30.00" lengthAdjust="spacingAndGlyphs" >sgIVS1-110A</text>
<line x1="44.40" y1="257.70" x2="44.40" y2="296.00" stroke="#222" stroke-width="0.7" />
<text x="217.80" y="159.60" font-size="4.8" fill="#333" stroke="#333" stroke-width="0.1">β<tspan font-size="2.98" dy="-2.02">+</tspan><tspan dy="2.02">β</tspan><tspan font-size="2.98" dy="-2.02">0</tspan><tspan font-size="2.32" dy="3.84">IVS</tspan></text>
<text x="217.80" y="181.10" font-size="4.8" fill="#333" stroke="#333" stroke-width="0.1">β<tspan font-size="2.98" dy="-2.02">+</tspan><tspan dy="2.02">β</tspan><tspan font-size="2.98" dy="-2.02">0</tspan><tspan font-size="2.32" dy="3.84">IVS</tspan></text>
<text x="217.80" y="202.60" font-size="4.8" fill="#333" stroke="#333" stroke-width="0.1">β<tspan font-size="2.98" dy="-2.02">+</tspan><tspan dy="2.02">β</tspan><tspan font-size="2.98" dy="-2.02">0</tspan><tspan font-size="2.32" dy="3.84">IVS</tspan></text>
<text x="217.80" y="224.10" font-size="4.8" fill="#333" stroke="#333" stroke-width="0.1">β<tspan font-size="2.98" dy="-2.02">+</tspan><tspan dy="2.02">β</tspan><tspan font-size="2.98" dy="-2.02">0</tspan><tspan font-size="2.32" dy="3.84">IVS</tspan></text>
<text x="217.80" y="245.60" font-size="4.8" fill="#333" stroke="#333" stroke-width="0.1">β<tspan font-size="2.98" dy="-2.02">+</tspan><tspan dy="2.02">β</tspan><tspan font-size="2.98" dy="-2.02">+</tspan></text>
<text x="217.80" y="267.10" font-size="4.8" fill="#333" stroke="#333" stroke-width="0.1">β<tspan font-size="2.98" dy="-2.02">+</tspan><tspan dy="2.02">β</tspan><tspan font-size="2.98" dy="-2.02">+</tspan></text>
<text x="217.80" y="288.60" font-size="4.8" fill="#333" stroke="#333" stroke-width="0.1">β<tspan font-size="2.98" dy="-2.02">+</tspan><tspan dy="2.02">β</tspan><tspan font-size="2.98" dy="-2.02">0</tspan><tspan font-size="2.38"> cd41/42</tspan></text>
<rect x="63.00" y="311.30" width="11.40" height="3.80" fill="#babd8c" />
<text x="77.40" y="315.10" font-size="5.5" fill="#222" stroke="#222" stroke-width="0.05" >A</text>
<rect x="63.00" y="319.10" width="11.40" height="3.80" fill="#cbc7cc" />
<text x="77.40" y="322.90" font-size="5.5" fill="#222" stroke="#222" stroke-width="0.05" >C</text>
<rect x="90.90" y="311.30" width="11.40" height="3.80" fill="#66acdc" />
<text x="105.30" y="315.10" font-size="5.5" fill="#222" stroke="#222" stroke-width="0.05" >G</text>
<rect x="90.90" y="319.10" width="11.40" height="3.80" fill="#9a92bf" />
<text x="105.30" y="322.90" font-size="5.5" fill="#222" stroke="#222" stroke-width="0.05" >T</text>
<rect x="119.60" y="311.30" width="11.40" height="3.80" fill="#595d66" />
<text x="134.00" y="315.10" font-size="5.5" fill="#222" stroke="#222" stroke-width="0.05" >Insertion</text>
<rect x="119.60" y="319.10" width="11.40" height="3.80" fill="#76562f" />
<text x="134.00" y="322.90" font-size="5.5" fill="#222" stroke="#222" stroke-width="0.05" >Deletion</text>
<rect x="166.9" y="311.4" width="11" height="3.6" fill="none" stroke="#333" stroke-width="0.6" stroke-dasharray="1,0.8"/>
<text x="180.50" y="315.10" font-size="5.5" fill="#222" stroke="#222" stroke-width="0.05" >Window</text>
<rect x="166.9" y="319.2" width="11" height="3.6" fill="none" stroke="#444" stroke-width="0.6"/>
<text x="180.50" y="322.90" font-size="5.5" fill="#222" stroke="#222" stroke-width="0.05" >Spacer</text>
<rect x="166.9" y="326.8" width="11" height="3.6" fill="none" stroke="#5fa3dc" stroke-width="0.6"/>
<text x="180.50" y="330.50" font-size="5.5" fill="#222" stroke="#222" stroke-width="0.05" >PAM</text>
<defs><linearGradient id="gelD" x1="0" y1="0" x2="0" y2="1"><stop offset="0" stop-color="#c4c2c2"/><stop offset="1" stop-color="#bab8b8"/></linearGradient><filter id="blur1" x="-20%" y="-50%" width="140%" height="200%"><feGaussianBlur stdDeviation="0.35"/></filter></defs>
<rect x="287.20" y="255.50" width="153.00" height="61.30" fill="url(#gelD)" />
<rect x="287.59999999999997" y="255.9" width="152.20" height="60.50" fill="none" stroke="#a5a5a5" stroke-width="0.8"/>
<rect x="291.80" y="260.6" width="10.0" height="3.4" rx="1.4" fill="#d0d0d0" stroke="#e6e6e6" stroke-width="0.6"/>
<line x1="293.40" y1="262.4" x2="300.20" y2="262.4" stroke="#f4f4f4" stroke-width="0.8"/>
<rect x="304.50" y="260.6" width="10.0" height="3.4" rx="1.4" fill="#d0d0d0" stroke="#e6e6e6" stroke-width="0.6"/>
<line x1="306.10" y1="262.4" x2="312.90" y2="262.4" stroke="#f4f4f4" stroke-width="0.8"/>
<rect x="316.76" y="260.6" width="10.0" height="3.4" rx="1.4" fill="#d0d0d0" stroke="#e6e6e6" stroke-width="0.6"/>
<line x1="318.36" y1="262.4" x2="325.16" y2="262.4" stroke="#f4f4f4" stroke-width="0.8"/>
<rect x="329.02" y="260.6" width="10.0" height="3.4" rx="1.4" fill="#d0d0d0" stroke="#e6e6e6" stroke-width="0.6"/>
<line x1="330.62" y1="262.4" x2="337.42" y2="262.4" stroke="#f4f4f4" stroke-width="0.8"/>
<rect x="341.28" y="260.6" width="10.0" height="3.4" rx="1.4" fill="#d0d0d0" stroke="#e6e6e6" stroke-width="0.6"/>
<line x1="342.88" y1="262.4" x2="349.68" y2="262.4" stroke="#f4f4f4" stroke-width="0.8"/>
<rect x="353.54" y="260.6" width="10.0" height="3.4" rx="1.4" fill="#d0d0d0" stroke="#e6e6e6" stroke-width="0.6"/>
<line x1="355.14" y1="262.4" x2="361.94" y2="262.4" stroke="#f4f4f4" stroke-width="0.8"/>
<rect x="365.80" y="260.6" width="10.0" height="3.4" rx="1.4" fill="#d0d0d0" stroke="#e6e6e6" stroke-width="0.6"/>
<line x1="367.40" y1="262.4" x2="374.20" y2="262.4" stroke="#f4f4f4" stroke-width="0.8"/>
<rect x="378.06" y="260.6" width="10.0" height="3.4" rx="1.4" fill="#d0d0d0" stroke="#e6e6e6" stroke-width="0.6"/>
<line x1="379.66" y1="262.4" x2="386.46" y2="262.4" stroke="#f4f4f4" stroke-width="0.8"/>
<rect x="390.32" y="260.6" width="10.0" height="3.4" rx="1.4" fill="#d0d0d0" stroke="#e6e6e6" stroke-width="0.6"/>
<line x1="391.92" y1="262.4" x2="398.72" y2="262.4" stroke="#f4f4f4" stroke-width="0.8"/>
<rect x="402.58" y="260.6" width="10.0" height="3.4" rx="1.4" fill="#d0d0d0" stroke="#e6e6e6" stroke-width="0.6"/>
<line x1="404.18" y1="262.4" x2="410.98" y2="262.4" stroke="#f4f4f4" stroke-width="0.8"/>
<rect x="414.84" y="260.6" width="10.0" height="3.4" rx="1.4" fill="#d0d0d0" stroke="#e6e6e6" stroke-width="0.6"/>
<line x1="416.44" y1="262.4" x2="423.24" y2="262.4" stroke="#f4f4f4" stroke-width="0.8"/>
<rect x="427.10" y="260.6" width="10.0" height="3.4" rx="1.4" fill="#d0d0d0" stroke="#e6e6e6" stroke-width="0.6"/>
<line x1="428.70" y1="262.4" x2="435.50" y2="262.4" stroke="#f4f4f4" stroke-width="0.8"/>
<g filter="url(#blur1)"><rect x="292.2" y="268.40" width="9.6" height="2.2" fill="#151515" opacity="1.0" rx="0.6"/><rect x="292.2" y="271.40" width="9.6" height="1.0" fill="#151515" opacity="0.55" rx="0.6"/><rect x="292.2" y="273.20" width="9.6" height="1.0" fill="#151515" opacity="0.5" rx="0.6"/><rect x="292.2" y="275.20" width="9.6" height="2.2" fill="#151515" opacity="1.0" rx="0.6"/><rect x="292.2" y="278.10" width="9.6" height="1.0" fill="#151515" opacity="0.5" rx="0.6"/><rect x="292.2" y="280.05" width="9.6" height="0.9" fill="#151515" opacity="0.45" rx="0.6"/><rect x="292.2" y="281.95" width="9.6" height="0.9" fill="#151515" opacity="0.45" rx="0.6"/><rect x="292.2" y="283.90" width="9.6" height="2.0" fill="#151515" opacity="0.95" rx="0.6"/><rect x="292.2" y="287.30" width="9.6" height="1.4" fill="#151515" opacity="0.75" rx="0.6"/><rect x="292.2" y="291.75" width="9.6" height="1.3" fill="#151515" opacity="0.65" rx="0.6"/><rect x="292.2" y="298.05" width="9.6" height="1.3" fill="#151515" opacity="0.5" rx="0.6"/><rect x="292.2" y="308.05" width="9.6" height="1.5" fill="#151515" opacity="0.5" rx="0.6"/><rect x="304.60" y="307.9" width="10.2" height="2.4" rx="1.0" fill="#0d0d0d" opacity="1.0"/><rect x="316.86" y="304.3" width="10.2" height="2.7" rx="0.8" fill="#3a3a3a" opacity="0.40"/><rect x="316.86" y="307.7" width="10.2" height="2.3" rx="1.0" fill="#1a1a1a" opacity="0.78"/><rect x="329.12" y="307.9" width="10.2" height="2.4" rx="1.0" fill="#0d0d0d" opacity="0.95"/><rect x="341.38" y="304.3" width="10.2" height="2.7" rx="0.8" fill="#3a3a3a" opacity="0.36"/><rect x="341.38" y="307.7" width="10.2" height="2.3" rx="1.0" fill="#1a1a1a" opacity="0.78"/><rect x="353.64" y="307.9" width="10.2" height="2.4" rx="1.0" fill="#0d0d0d" opacity="0.95"/><rect x="365.90" y="304.3" width="10.2" height="2.7" rx="0.8" fill="#3a3a3a" opacity="0.40"/><rect x="365.90" y="307.7" width="10.2" height="2.3" rx="1.0" fill="#1a1a1a" opacity="0.78"/><rect x="378.16" y="307.9" width="10.2" height="2.4" rx="1.0" fill="#0d0d0d" opacity="0.95"/><rect x="390.42" y="304.3" width="10.2" height="2.7" rx="0.8" fill="#3a3a3a" opacity="0.68"/><rect x="390.42" y="307.7" width="10.2" height="2.3" rx="1.0" fill="#1a1a1a" opacity="0.78"/><rect x="402.68" y="307.9" width="10.2" height="2.4" rx="1.0" fill="#0d0d0d" opacity="1.0"/><rect x="414.94" y="304.3" width="10.2" height="2.7" rx="0.8" fill="#3a3a3a" opacity="0.40"/><rect x="414.94" y="307.7" width="10.2" height="2.3" rx="1.0" fill="#1a1a1a" opacity="0.78"/><rect x="427.20" y="307.9" width="10.2" height="2.4" rx="1.0" fill="#0d0d0d" opacity="0.95"/></g>
<text x="280.30" y="286.70" font-size="5.5" fill="#222" stroke="#222" stroke-width="0.05" text-anchor="end" textLength="15.60" lengthAdjust="spacingAndGlyphs" >500bp</text>
<line x1="283.50" y1="284.80" x2="287.00" y2="284.80" stroke="#111" stroke-width="0.8" />
<text x="280.30" y="301.30" font-size="5.5" fill="#222" stroke="#222" stroke-width="0.05" text-anchor="end" textLength="15.60" lengthAdjust="spacingAndGlyphs" >200bp</text>
<line x1="283.50" y1="299.40" x2="287.00" y2="299.40" stroke="#111" stroke-width="0.8" />
<text x="280.30" y="310.30" font-size="5.5" fill="#222" stroke="#222" stroke-width="0.05" text-anchor="end" textLength="15.60" lengthAdjust="spacingAndGlyphs" >100bp</text>
<line x1="283.50" y1="308.40" x2="287.00" y2="308.40" stroke="#111" stroke-width="0.8" />
<line x1="440.80" y1="302.50" x2="444.30" y2="302.50" stroke="#111" stroke-width="0.7" />
<line x1="440.80" y1="304.90" x2="444.30" y2="304.90" stroke="#111" stroke-width="0.7" />
<line x1="440.80" y1="308.60" x2="444.30" y2="308.60" stroke="#111" stroke-width="0.7" />
<text x="445.30" y="304.60" font-size="5.5" fill="#222" stroke="#222" stroke-width="0.05" >A</text>
<text x="445.30" y="311.80" font-size="5.5" fill="#222" stroke="#222" stroke-width="0.05" >N</text>
<text transform="translate(307.30,252.30) rotate(-45)" font-size="6.0" fill="#333" stroke="#333" stroke-width="0.1">β<tspan font-size="3.72" dy="-2.52">+</tspan><tspan dy="2.52">β</tspan><tspan font-size="3.72" dy="-2.52">0</tspan></text>
<text transform="translate(319.96,252.70) rotate(-45)" font-size="5.6" fill="#222" stroke="#222" stroke-width="0.05" textLength="22.50" lengthAdjust="spacingAndGlyphs" >sgAAVS1</text>
<text transform="translate(332.22,252.70) rotate(-45)" font-size="5.6" fill="#222" stroke="#222" stroke-width="0.05" textLength="31.50" lengthAdjust="spacingAndGlyphs" >sgIVS1-110A</text>
<text transform="translate(344.48,252.70) rotate(-45)" font-size="5.6" fill="#222" stroke="#222" stroke-width="0.05" textLength="22.50" lengthAdjust="spacingAndGlyphs" >sgAAVS1</text>
<text transform="translate(356.74,252.70) rotate(-45)" font-size="5.6" fill="#222" stroke="#222" stroke-width="0.05" textLength="31.50" lengthAdjust="spacingAndGlyphs" >sgIVS1-110A</text>
<text transform="translate(369.00,252.70) rotate(-45)" font-size="5.6" fill="#222" stroke="#222" stroke-width="0.05" textLength="22.50" lengthAdjust="spacingAndGlyphs" >sgAAVS1</text>
<text transform="translate(381.26,252.70) rotate(-45)" font-size="5.6" fill="#222" stroke="#222" stroke-width="0.05" textLength="31.50" lengthAdjust="spacingAndGlyphs" >sgIVS1-110A</text>
<text transform="translate(393.52,252.70) rotate(-45)" font-size="5.6" fill="#222" stroke="#222" stroke-width="0.05" textLength="22.50" lengthAdjust="spacingAndGlyphs" >sgAAVS1</text>
<text transform="translate(405.78,252.70) rotate(-45)" font-size="5.6" fill="#222" stroke="#222" stroke-width="0.05" textLength="31.50" lengthAdjust="spacingAndGlyphs" >sgIVS1-110A</text>
<text transform="translate(418.04,252.70) rotate(-45)" font-size="5.6" fill="#222" stroke="#222" stroke-width="0.05" textLength="22.50" lengthAdjust="spacingAndGlyphs" >sgAAVS1</text>
<text transform="translate(430.30,252.70) rotate(-45)" font-size="5.6" fill="#222" stroke="#222" stroke-width="0.05" textLength="31.50" lengthAdjust="spacingAndGlyphs" >sgIVS1-110A</text>
<line x1="336.80" y1="222.90" x2="355.20" y2="222.90" stroke="#666" stroke-width="0.9" />
<text x="339.40" y="218.60" font-size="4.8" fill="#333" stroke="#333" stroke-width="0.1">β<tspan font-size="2.98" dy="-2.02">+</tspan><tspan dy="2.02">β</tspan><tspan font-size="2.98" dy="-2.02">0</tspan><tspan font-size="2.32" dy="3.84">IVS</tspan></text>
<line x1="363.80" y1="222.90" x2="381.70" y2="222.90" stroke="#666" stroke-width="0.9" />
<text x="366.40" y="218.60" font-size="4.8" fill="#333" stroke="#333" stroke-width="0.1">β<tspan font-size="2.98" dy="-2.02">+</tspan><tspan dy="2.02">β</tspan><tspan font-size="2.98" dy="-2.02">0</tspan><tspan font-size="2.32" dy="3.84">IVS</tspan></text>
<line x1="389.00" y1="222.90" x2="407.00" y2="222.90" stroke="#666" stroke-width="0.9" />
<text x="391.60" y="218.60" font-size="4.8" fill="#333" stroke="#333" stroke-width="0.1">β<tspan font-size="2.98" dy="-2.02">+</tspan><tspan dy="2.02">β</tspan><tspan font-size="2.98" dy="-2.02">0</tspan><tspan font-size="2.32" dy="3.84">IVS</tspan></text>
<line x1="414.60" y1="222.90" x2="432.80" y2="222.90" stroke="#666" stroke-width="0.9" />
<text x="417.20" y="218.60" font-size="4.8" fill="#333" stroke="#333" stroke-width="0.1">β<tspan font-size="2.98" dy="-2.02">+</tspan><tspan dy="2.02">β</tspan><tspan font-size="2.98" dy="-2.02">+</tspan></text>
<line x1="440.00" y1="222.90" x2="458.20" y2="222.90" stroke="#666" stroke-width="0.9" />
<text x="442.60" y="218.60" font-size="4.8" fill="#333" stroke="#333" stroke-width="0.1">β<tspan font-size="2.98" dy="-2.02">+</tspan><tspan dy="2.02">β</tspan><tspan font-size="2.98" dy="-2.02">0</tspan><tspan font-size="2.38"> cd41/42</tspan></text>
<rect x="73.50" y="375.60" width="7.30" height="3.60" fill="#435d7e" />
<text x="84.00" y="379.40" font-size="5.6" fill="#444" stroke="#444" stroke-width="0.05" >β</text>
<rect x="97.30" y="375.60" width="7.30" height="3.60" fill="#6ea6d5" />
<text x="107.80" y="379.40" font-size="5.6" fill="#444" stroke="#444" stroke-width="0.05" >γ</text>
<rect x="120.80" y="375.60" width="7.30" height="3.60" fill="#9c8fb4" />
<text x="131.30" y="379.40" font-size="5.6" fill="#444" stroke="#444" stroke-width="0.05" >δ</text>
<rect x="39.70" y="445.27" width="9.00" height="10.23" fill="#435d7e" />
<rect x="39.70" y="418.67" width="9.00" height="26.60" fill="#6ea6d5" />
<rect x="39.70" y="411.85" width="9.00" height="6.82" fill="#9c8fb4" />
<line x1="41.70" y1="445.27" x2="46.70" y2="445.27" stroke="#222" stroke-width="0.8" />
<line x1="41.70" y1="418.67" x2="46.70" y2="418.67" stroke="#222" stroke-width="0.8" />
<line x1="41.70" y1="411.85" x2="46.70" y2="411.85" stroke="#222" stroke-width="0.8" />
<line x1="44.20" y1="455.50" x2="44.20" y2="458.10" stroke="#111" stroke-width="0.6" />
<rect x="53.03" y="408.44" width="9.00" height="47.06" fill="#435d7e" />
<rect x="53.03" y="398.89" width="9.00" height="9.55" fill="#6ea6d5" />
<rect x="53.03" y="392.07" width="9.00" height="6.82" fill="#9c8fb4" />
<line x1="55.03" y1="408.44" x2="60.03" y2="408.44" stroke="#222" stroke-width="0.8" />
<line x1="55.03" y1="398.89" x2="60.03" y2="398.89" stroke="#222" stroke-width="0.8" />
<line x1="55.03" y1="392.07" x2="60.03" y2="392.07" stroke="#222" stroke-width="0.8" />
<line x1="57.53" y1="455.50" x2="57.53" y2="458.10" stroke="#111" stroke-width="0.6" />
<rect x="66.36" y="448.00" width="9.00" height="7.50" fill="#435d7e" />
<rect x="66.36" y="432.99" width="9.00" height="15.00" fill="#6ea6d5" />
<rect x="66.36" y="429.58" width="9.00" height="3.41" fill="#9c8fb4" />
<line x1="68.36" y1="448.00" x2="73.36" y2="448.00" stroke="#222" stroke-width="0.8" />
<line x1="68.36" y1="432.99" x2="73.36" y2="432.99" stroke="#222" stroke-width="0.8" />
<line x1="68.36" y1="429.58" x2="73.36" y2="429.58" stroke="#222" stroke-width="0.8" />
<line x1="70.86" y1="455.50" x2="70.86" y2="458.10" stroke="#111" stroke-width="0.6" />
<rect x="79.69" y="416.63" width="9.00" height="38.87" fill="#435d7e" />
<rect x="79.69" y="410.49" width="9.00" height="6.14" fill="#6ea6d5" />
<rect x="79.69" y="409.81" width="9.00" height="0.68" fill="#9c8fb4" />
<line x1="81.69" y1="416.63" x2="86.69" y2="416.63" stroke="#222" stroke-width="0.8" />
<line x1="81.69" y1="410.49" x2="86.69" y2="410.49" stroke="#222" stroke-width="0.8" />
<line x1="81.69" y1="409.81" x2="86.69" y2="409.81" stroke="#222" stroke-width="0.8" />
<line x1="84.19" y1="455.50" x2="84.19" y2="458.10" stroke="#111" stroke-width="0.6" />
<rect x="93.02" y="435.04" width="9.00" height="20.46" fill="#435d7e" />
<rect x="93.02" y="404.35" width="9.00" height="30.69" fill="#6ea6d5" />
<rect x="93.02" y="398.89" width="9.00" height="5.46" fill="#9c8fb4" />
<line x1="95.02" y1="435.04" x2="100.02" y2="435.04" stroke="#222" stroke-width="0.8" />
<line x1="95.02" y1="404.35" x2="100.02" y2="404.35" stroke="#222" stroke-width="0.8" />
<line x1="95.02" y1="398.89" x2="100.02" y2="398.89" stroke="#222" stroke-width="0.8" />
<line x1="97.52" y1="455.50" x2="97.52" y2="458.10" stroke="#111" stroke-width="0.6" />
<rect x="106.35" y="405.71" width="9.00" height="49.79" fill="#435d7e" />
<rect x="106.35" y="396.17" width="9.00" height="9.55" fill="#6ea6d5" />
<rect x="106.35" y="395.48" width="9.00" height="0.68" fill="#9c8fb4" />
<line x1="108.35" y1="405.71" x2="113.35" y2="405.71" stroke="#222" stroke-width="0.8" />
<line x1="108.35" y1="396.17" x2="113.35" y2="396.17" stroke="#222" stroke-width="0.8" />
<line x1="108.35" y1="395.48" x2="113.35" y2="395.48" stroke="#222" stroke-width="0.8" />
<line x1="110.85" y1="405.71" x2="110.85" y2="404.01" stroke="#222" stroke-width="0.6" />
<line x1="109.05" y1="404.01" x2="112.65" y2="404.01" stroke="#222" stroke-width="0.6" />
<line x1="110.85" y1="455.50" x2="110.85" y2="458.10" stroke="#111" stroke-width="0.6" />
<rect x="119.68" y="429.58" width="9.00" height="25.92" fill="#435d7e" />
<rect x="119.68" y="391.39" width="9.00" height="38.19" fill="#6ea6d5" />
<rect x="119.68" y="389.00" width="9.00" height="2.39" fill="#9c8fb4" />
<line x1="121.68" y1="429.58" x2="126.68" y2="429.58" stroke="#222" stroke-width="0.8" />
<line x1="121.68" y1="391.39" x2="126.68" y2="391.39" stroke="#222" stroke-width="0.8" />
<line x1="121.68" y1="389.00" x2="126.68" y2="389.00" stroke="#222" stroke-width="0.8" />
<line x1="124.18" y1="455.50" x2="124.18" y2="458.10" stroke="#111" stroke-width="0.6" />
<rect x="133.01" y="399.24" width="9.00" height="56.26" fill="#435d7e" />
<rect x="133.01" y="389.00" width="9.00" height="10.23" fill="#6ea6d5" />
<rect x="133.01" y="387.98" width="9.00" height="1.02" fill="#9c8fb4" />
<line x1="135.01" y1="399.24" x2="140.01" y2="399.24" stroke="#222" stroke-width="0.8" />
<line x1="135.01" y1="389.00" x2="140.01" y2="389.00" stroke="#222" stroke-width="0.8" />
<line x1="135.01" y1="387.98" x2="140.01" y2="387.98" stroke="#222" stroke-width="0.8" />
<line x1="137.51" y1="399.24" x2="137.51" y2="396.51" stroke="#222" stroke-width="0.6" />
<line x1="135.71" y1="396.51" x2="139.31" y2="396.51" stroke="#222" stroke-width="0.6" />
<line x1="137.51" y1="455.50" x2="137.51" y2="458.10" stroke="#111" stroke-width="0.6" />
<rect x="146.34" y="448.68" width="9.00" height="6.82" fill="#435d7e" />
<rect x="146.34" y="424.13" width="9.00" height="24.55" fill="#6ea6d5" />
<rect x="146.34" y="419.35" width="9.00" height="4.77" fill="#9c8fb4" />
<line x1="148.34" y1="448.68" x2="153.34" y2="448.68" stroke="#222" stroke-width="0.8" />
<line x1="148.34" y1="424.13" x2="153.34" y2="424.13" stroke="#222" stroke-width="0.8" />
<line x1="148.34" y1="419.35" x2="153.34" y2="419.35" stroke="#222" stroke-width="0.8" />
<line x1="150.84" y1="455.50" x2="150.84" y2="458.10" stroke="#111" stroke-width="0.6" />
<rect x="159.67" y="421.40" width="9.00" height="34.10" fill="#435d7e" />
<rect x="159.67" y="408.44" width="9.00" height="12.96" fill="#6ea6d5" />
<rect x="159.67" y="406.74" width="9.00" height="1.71" fill="#9c8fb4" />
<line x1="161.67" y1="421.40" x2="166.67" y2="421.40" stroke="#222" stroke-width="0.8" />
<line x1="161.67" y1="408.44" x2="166.67" y2="408.44" stroke="#222" stroke-width="0.8" />
<line x1="161.67" y1="406.74" x2="166.67" y2="406.74" stroke="#222" stroke-width="0.8" />
<line x1="164.17" y1="421.40" x2="164.17" y2="420.38" stroke="#222" stroke-width="0.6" />
<line x1="162.37" y1="420.38" x2="165.97" y2="420.38" stroke="#222" stroke-width="0.6" />
<line x1="164.17" y1="455.50" x2="164.17" y2="458.10" stroke="#111" stroke-width="0.6" />
<line x1="35.00" y1="385.80" x2="35.00" y2="456.10" stroke="#222" stroke-width="1.35" />
<line x1="31.20" y1="455.50" x2="35.00" y2="455.50" stroke="#111" stroke-width="0.8" />
<text x="29.00" y="457.30" font-size="5.0" fill="#444" stroke="#444" stroke-width="0.05" text-anchor="end" >0.0</text>
<line x1="31.20" y1="441.86" x2="35.00" y2="441.86" stroke="#111" stroke-width="0.8" />
<text x="29.00" y="443.66" font-size="5.0" fill="#444" stroke="#444" stroke-width="0.05" text-anchor="end" >0.2</text>
<line x1="31.20" y1="428.22" x2="35.00" y2="428.22" stroke="#111" stroke-width="0.8" />
<text x="29.00" y="430.02" font-size="5.0" fill="#444" stroke="#444" stroke-width="0.05" text-anchor="end" >0.4</text>
<line x1="31.20" y1="414.58" x2="35.00" y2="414.58" stroke="#111" stroke-width="0.8" />
<text x="29.00" y="416.38" font-size="5.0" fill="#444" stroke="#444" stroke-width="0.05" text-anchor="end" >0.6</text>
<line x1="31.20" y1="400.94" x2="35.00" y2="400.94" stroke="#111" stroke-width="0.8" />
<text x="29.00" y="402.74" font-size="5.0" fill="#444" stroke="#444" stroke-width="0.05" text-anchor="end" >0.8</text>
<line x1="31.20" y1="387.30" x2="35.00" y2="387.30" stroke="#111" stroke-width="0.8" />
<text x="29.00" y="389.10" font-size="5.0" fill="#444" stroke="#444" stroke-width="0.05" text-anchor="end" >1.0</text>
<line x1="35.00" y1="455.50" x2="173.00" y2="455.50" stroke="#222" stroke-width="1.35" />
<text transform="translate(15.20,419.90) rotate(-90)" font-size="7.3" fill="#222" stroke="#222" stroke-width="0.05" text-anchor="middle" textLength="70.00" lengthAdjust="spacingAndGlyphs" >Globin (relative to α)</text>
<text transform="translate(47.20,464.50) rotate(-47)" font-size="5.5" fill="#222" stroke="#222" stroke-width="0.05" text-anchor="end" textLength="23.00" lengthAdjust="spacingAndGlyphs" >sgAAVS1</text>
<text transform="translate(60.73,465.80) rotate(-47)" font-size="5.5" fill="#222" stroke="#222" stroke-width="0.05" text-anchor="end" textLength="30.50" lengthAdjust="spacingAndGlyphs" >sgIVS1-110A</text>
<text transform="translate(73.86,464.50) rotate(-47)" font-size="5.5" fill="#222" stroke="#222" stroke-width="0.05" text-anchor="end" textLength="23.00" lengthAdjust="spacingAndGlyphs" >sgAAVS1</text>
<text transform="translate(87.39,465.80) rotate(-47)" font-size="5.5" fill="#222" stroke="#222" stroke-width="0.05" text-anchor="end" textLength="30.50" lengthAdjust="spacingAndGlyphs" >sgIVS1-110A</text>
<text transform="translate(100.52,464.50) rotate(-47)" font-size="5.5" fill="#222" stroke="#222" stroke-width="0.05" text-anchor="end" textLength="23.00" lengthAdjust="spacingAndGlyphs" >sgAAVS1</text>
<text transform="translate(114.05,465.80) rotate(-47)" font-size="5.5" fill="#222" stroke="#222" stroke-width="0.05" text-anchor="end" textLength="30.50" lengthAdjust="spacingAndGlyphs" >sgIVS1-110A</text>
<text transform="translate(127.18,464.50) rotate(-47)" font-size="5.5" fill="#222" stroke="#222" stroke-width="0.05" text-anchor="end" textLength="23.00" lengthAdjust="spacingAndGlyphs" >sgAAVS1</text>
<text transform="translate(140.71,465.80) rotate(-47)" font-size="5.5" fill="#222" stroke="#222" stroke-width="0.05" text-anchor="end" textLength="30.50" lengthAdjust="spacingAndGlyphs" >sgIVS1-110A</text>
<text transform="translate(153.84,464.50) rotate(-47)" font-size="5.5" fill="#222" stroke="#222" stroke-width="0.05" text-anchor="end" textLength="23.00" lengthAdjust="spacingAndGlyphs" >sgAAVS1</text>
<text transform="translate(167.37,465.80) rotate(-47)" font-size="5.5" fill="#222" stroke="#222" stroke-width="0.05" text-anchor="end" textLength="30.50" lengthAdjust="spacingAndGlyphs" >sgIVS1-110A</text>
<line x1="24.30" y1="492.80" x2="43.10" y2="492.80" stroke="#555" stroke-width="0.8" />
<text x="26.90" y="501.60" font-size="4.8" fill="#333" stroke="#333" stroke-width="0.1">β<tspan font-size="2.98" dy="-2.02">+</tspan><tspan dy="2.02">β</tspan><tspan font-size="2.98" dy="-2.02">0</tspan><tspan font-size="2.32" dy="3.84">IVS</tspan></text>
<line x1="51.20" y1="492.80" x2="69.60" y2="492.80" stroke="#555" stroke-width="0.8" />
<text x="53.80" y="501.60" font-size="4.8" fill="#333" stroke="#333" stroke-width="0.1">β<tspan font-size="2.98" dy="-2.02">+</tspan><tspan dy="2.02">β</tspan><tspan font-size="2.98" dy="-2.02">0</tspan><tspan font-size="2.32" dy="3.84">IVS</tspan></text>
<line x1="76.80" y1="492.80" x2="95.20" y2="492.80" stroke="#555" stroke-width="0.8" />
<text x="79.40" y="501.60" font-size="4.8" fill="#333" stroke="#333" stroke-width="0.1">β<tspan font-size="2.98" dy="-2.02">+</tspan><tspan dy="2.02">β</tspan><tspan font-size="2.98" dy="-2.02">0</tspan><tspan font-size="2.32" dy="3.84">IVS</tspan></text>
<line x1="103.80" y1="492.80" x2="121.80" y2="492.80" stroke="#555" stroke-width="0.8" />
<text x="106.40" y="501.60" font-size="4.8" fill="#333" stroke="#333" stroke-width="0.1">β<tspan font-size="2.98" dy="-2.02">+</tspan><tspan dy="2.02">β</tspan><tspan font-size="2.98" dy="-2.02">+</tspan></text>
<line x1="129.80" y1="492.80" x2="148.10" y2="492.80" stroke="#555" stroke-width="0.8" />
<text x="132.40" y="501.60" font-size="4.8" fill="#333" stroke="#333" stroke-width="0.1">β<tspan font-size="2.98" dy="-2.02">+</tspan><tspan dy="2.02">β</tspan><tspan font-size="2.98" dy="-2.02">0</tspan><tspan font-size="2.38"> cd41/42</tspan></text>
<rect x="254.80" y="375.40" width="8.00" height="3.50" fill="#435d7e" />
<text x="265.20" y="379.20" font-size="5.5" fill="#444" stroke="#444" stroke-width="0.05" >HbA</text>
<rect x="287.80" y="375.40" width="7.80" height="3.50" fill="#6ea6d5" />
<text x="298.00" y="379.20" font-size="5.5" fill="#444" stroke="#444" stroke-width="0.05" >HbF</text>
<rect x="319.80" y="375.40" width="7.20" height="3.50" fill="#9c8fb4" />
<text x="329.40" y="379.20" font-size="5.5" fill="#444" stroke="#444" stroke-width="0.05" >HbA2</text>
<rect x="235.80" y="429.51" width="9.20" height="25.99" fill="#435d7e" />
<rect x="235.80" y="394.28" width="9.20" height="35.23" fill="#6ea6d5" />
<rect x="235.80" y="387.10" width="9.20" height="7.18" fill="#9c8fb4" />
<line x1="237.80" y1="429.51" x2="243.00" y2="429.51" stroke="#222" stroke-width="0.8" />
<line x1="240.40" y1="429.51" x2="240.40" y2="428.14" stroke="#222" stroke-width="0.6" />
<line x1="238.60" y1="428.14" x2="242.20" y2="428.14" stroke="#222" stroke-width="0.6" />
<line x1="237.80" y1="394.28" x2="243.00" y2="394.28" stroke="#222" stroke-width="0.8" />
<line x1="240.40" y1="394.28" x2="240.40" y2="392.91" stroke="#222" stroke-width="0.6" />
<line x1="238.60" y1="392.91" x2="242.20" y2="392.91" stroke="#222" stroke-width="0.6" />
<line x1="237.80" y1="387.10" x2="243.00" y2="387.10" stroke="#222" stroke-width="0.8" />
<line x1="240.40" y1="455.50" x2="240.40" y2="458.10" stroke="#111" stroke-width="0.6" />
<rect x="249.13" y="403.52" width="9.20" height="51.98" fill="#435d7e" />
<rect x="249.13" y="390.52" width="9.20" height="13.00" fill="#6ea6d5" />
<rect x="249.13" y="387.10" width="9.20" height="3.42" fill="#9c8fb4" />
<line x1="251.13" y1="403.52" x2="256.33" y2="403.52" stroke="#222" stroke-width="0.8" />
<line x1="253.73" y1="403.52" x2="253.73" y2="402.15" stroke="#222" stroke-width="0.6" />
<line x1="251.93" y1="402.15" x2="255.53" y2="402.15" stroke="#222" stroke-width="0.6" />
<line x1="251.13" y1="390.52" x2="256.33" y2="390.52" stroke="#222" stroke-width="0.8" />
<line x1="253.73" y1="390.52" x2="253.73" y2="389.15" stroke="#222" stroke-width="0.6" />
<line x1="251.93" y1="389.15" x2="255.53" y2="389.15" stroke="#222" stroke-width="0.6" />
<line x1="251.13" y1="387.10" x2="256.33" y2="387.10" stroke="#222" stroke-width="0.8" />
<line x1="253.73" y1="455.50" x2="253.73" y2="458.10" stroke="#111" stroke-width="0.6" />
<rect x="262.46" y="433.61" width="9.20" height="21.89" fill="#435d7e" />
<rect x="262.46" y="395.31" width="9.20" height="38.30" fill="#6ea6d5" />
<rect x="262.46" y="387.10" width="9.20" height="8.21" fill="#9c8fb4" />
<line x1="264.46" y1="433.61" x2="269.66" y2="433.61" stroke="#222" stroke-width="0.8" />
<line x1="267.06" y1="433.61" x2="267.06" y2="432.24" stroke="#222" stroke-width="0.6" />
<line x1="265.26" y1="432.24" x2="268.86" y2="432.24" stroke="#222" stroke-width="0.6" />
<line x1="264.46" y1="395.31" x2="269.66" y2="395.31" stroke="#222" stroke-width="0.8" />
<line x1="267.06" y1="395.31" x2="267.06" y2="392.57" stroke="#222" stroke-width="0.6" />
<line x1="265.26" y1="392.57" x2="268.86" y2="392.57" stroke="#222" stroke-width="0.6" />
<line x1="264.46" y1="387.10" x2="269.66" y2="387.10" stroke="#222" stroke-width="0.8" />
<line x1="267.06" y1="387.10" x2="267.06" y2="383.68" stroke="#222" stroke-width="0.6" />
<line x1="265.26" y1="383.68" x2="268.86" y2="383.68" stroke="#222" stroke-width="0.6" />
<line x1="267.06" y1="455.50" x2="267.06" y2="458.10" stroke="#111" stroke-width="0.6" />
<rect x="275.79" y="400.78" width="9.20" height="54.72" fill="#435d7e" />
<rect x="275.79" y="392.57" width="9.20" height="8.21" fill="#6ea6d5" />
<rect x="275.79" y="387.10" width="9.20" height="5.47" fill="#9c8fb4" />
<line x1="277.79" y1="400.78" x2="282.99" y2="400.78" stroke="#222" stroke-width="0.8" />
<line x1="277.79" y1="392.57" x2="282.99" y2="392.57" stroke="#222" stroke-width="0.8" />
<line x1="280.39" y1="392.57" x2="280.39" y2="389.84" stroke="#222" stroke-width="0.6" />
<line x1="278.59" y1="389.84" x2="282.19" y2="389.84" stroke="#222" stroke-width="0.6" />
<line x1="277.79" y1="387.10" x2="282.99" y2="387.10" stroke="#222" stroke-width="0.8" />
<line x1="280.39" y1="387.10" x2="280.39" y2="385.05" stroke="#222" stroke-width="0.6" />
<line x1="278.59" y1="385.05" x2="282.19" y2="385.05" stroke="#222" stroke-width="0.6" />
<line x1="280.39" y1="455.50" x2="280.39" y2="458.10" stroke="#111" stroke-width="0.6" />
<rect x="289.12" y="429.03" width="9.20" height="26.47" fill="#435d7e" />
<rect x="289.12" y="394.83" width="9.20" height="34.20" fill="#6ea6d5" />
<rect x="289.12" y="387.10" width="9.20" height="7.73" fill="#9c8fb4" />
<line x1="291.12" y1="429.03" x2="296.32" y2="429.03" stroke="#222" stroke-width="0.8" />
<line x1="293.72" y1="429.03" x2="293.72" y2="423.56" stroke="#222" stroke-width="0.6" />
<line x1="291.92" y1="423.56" x2="295.52" y2="423.56" stroke="#222" stroke-width="0.6" />
<line x1="291.12" y1="394.83" x2="296.32" y2="394.83" stroke="#222" stroke-width="0.8" />
<line x1="293.72" y1="394.83" x2="293.72" y2="387.99" stroke="#222" stroke-width="0.6" />
<line x1="291.92" y1="387.99" x2="295.52" y2="387.99" stroke="#222" stroke-width="0.6" />
<line x1="291.12" y1="387.10" x2="296.32" y2="387.10" stroke="#222" stroke-width="0.8" />
<line x1="293.72" y1="387.10" x2="293.72" y2="385.39" stroke="#222" stroke-width="0.6" />
<line x1="291.92" y1="385.39" x2="295.52" y2="385.39" stroke="#222" stroke-width="0.6" />
<line x1="293.72" y1="455.50" x2="293.72" y2="458.10" stroke="#111" stroke-width="0.6" />
<rect x="302.45" y="400.10" width="9.20" height="55.40" fill="#435d7e" />
<rect x="302.45" y="390.11" width="9.20" height="9.99" fill="#6ea6d5" />
<rect x="302.45" y="387.10" width="9.20" height="3.01" fill="#9c8fb4" />
<line x1="304.45" y1="400.10" x2="309.65" y2="400.10" stroke="#222" stroke-width="0.8" />
<line x1="307.05" y1="400.10" x2="307.05" y2="398.73" stroke="#222" stroke-width="0.6" />
<line x1="305.25" y1="398.73" x2="308.85" y2="398.73" stroke="#222" stroke-width="0.6" />
<line x1="304.45" y1="390.11" x2="309.65" y2="390.11" stroke="#222" stroke-width="0.8" />
<line x1="307.05" y1="390.11" x2="307.05" y2="388.74" stroke="#222" stroke-width="0.6" />
<line x1="305.25" y1="388.74" x2="308.85" y2="388.74" stroke="#222" stroke-width="0.6" />
<line x1="304.45" y1="387.10" x2="309.65" y2="387.10" stroke="#222" stroke-width="0.8" />
<line x1="307.05" y1="455.50" x2="307.05" y2="458.10" stroke="#111" stroke-width="0.6" />
<rect x="315.78" y="426.43" width="9.20" height="29.07" fill="#435d7e" />
<rect x="315.78" y="392.71" width="9.20" height="33.72" fill="#6ea6d5" />
<rect x="315.78" y="387.10" width="9.20" height="5.61" fill="#9c8fb4" />
<line x1="317.78" y1="426.43" x2="322.98" y2="426.43" stroke="#222" stroke-width="0.8" />
<line x1="320.38" y1="426.43" x2="320.38" y2="425.06" stroke="#222" stroke-width="0.6" />
<line x1="318.58" y1="425.06" x2="322.18" y2="425.06" stroke="#222" stroke-width="0.6" />
<line x1="317.78" y1="392.71" x2="322.98" y2="392.71" stroke="#222" stroke-width="0.8" />
<line x1="320.38" y1="392.71" x2="320.38" y2="391.34" stroke="#222" stroke-width="0.6" />
<line x1="318.58" y1="391.34" x2="322.18" y2="391.34" stroke="#222" stroke-width="0.6" />
<line x1="317.78" y1="387.10" x2="322.98" y2="387.10" stroke="#222" stroke-width="0.8" />
<line x1="320.38" y1="387.10" x2="320.38" y2="384.02" stroke="#222" stroke-width="0.6" />
<line x1="318.58" y1="384.02" x2="322.18" y2="384.02" stroke="#222" stroke-width="0.6" />
<line x1="320.38" y1="455.50" x2="320.38" y2="458.10" stroke="#111" stroke-width="0.6" />
<rect x="329.11" y="403.11" width="9.20" height="52.39" fill="#435d7e" />
<rect x="329.11" y="390.11" width="9.20" height="13.00" fill="#6ea6d5" />
<rect x="329.11" y="387.10" width="9.20" height="3.01" fill="#9c8fb4" />
<line x1="331.11" y1="403.11" x2="336.31" y2="403.11" stroke="#222" stroke-width="0.8" />
<line x1="333.71" y1="403.11" x2="333.71" y2="399.69" stroke="#222" stroke-width="0.6" />
<line x1="331.91" y1="399.69" x2="335.51" y2="399.69" stroke="#222" stroke-width="0.6" />
<line x1="331.11" y1="390.11" x2="336.31" y2="390.11" stroke="#222" stroke-width="0.8" />
<line x1="333.71" y1="390.11" x2="333.71" y2="388.74" stroke="#222" stroke-width="0.6" />
<line x1="331.91" y1="388.74" x2="335.51" y2="388.74" stroke="#222" stroke-width="0.6" />
<line x1="331.11" y1="387.10" x2="336.31" y2="387.10" stroke="#222" stroke-width="0.8" />
<line x1="333.71" y1="387.10" x2="333.71" y2="385.05" stroke="#222" stroke-width="0.6" />
<line x1="331.91" y1="385.05" x2="335.51" y2="385.05" stroke="#222" stroke-width="0.6" />
<line x1="333.71" y1="455.50" x2="333.71" y2="458.10" stroke="#111" stroke-width="0.6" />
<rect x="342.44" y="435.12" width="9.20" height="20.38" fill="#435d7e" />
<rect x="342.44" y="398.18" width="9.20" height="36.94" fill="#6ea6d5" />
<rect x="342.44" y="387.10" width="9.20" height="11.08" fill="#9c8fb4" />
<line x1="344.44" y1="435.12" x2="349.64" y2="435.12" stroke="#222" stroke-width="0.8" />
<line x1="347.04" y1="435.12" x2="347.04" y2="428.28" stroke="#222" stroke-width="0.6" />
<line x1="345.24" y1="428.28" x2="348.84" y2="428.28" stroke="#222" stroke-width="0.6" />
<line x1="344.44" y1="398.18" x2="349.64" y2="398.18" stroke="#222" stroke-width="0.8" />
<line x1="347.04" y1="398.18" x2="347.04" y2="389.29" stroke="#222" stroke-width="0.6" />
<line x1="345.24" y1="389.29" x2="348.84" y2="389.29" stroke="#222" stroke-width="0.6" />
<line x1="344.44" y1="387.10" x2="349.64" y2="387.10" stroke="#222" stroke-width="0.8" />
<line x1="347.04" y1="387.10" x2="347.04" y2="384.36" stroke="#222" stroke-width="0.6" />
<line x1="345.24" y1="384.36" x2="348.84" y2="384.36" stroke="#222" stroke-width="0.6" />
<line x1="347.04" y1="455.50" x2="347.04" y2="458.10" stroke="#111" stroke-width="0.6" />
<rect x="355.77" y="411.38" width="9.20" height="44.12" fill="#435d7e" />
<rect x="355.77" y="393.60" width="9.20" height="17.78" fill="#6ea6d5" />
<rect x="355.77" y="387.10" width="9.20" height="6.50" fill="#9c8fb4" />
<line x1="357.77" y1="411.38" x2="362.97" y2="411.38" stroke="#222" stroke-width="0.8" />
<line x1="360.37" y1="411.38" x2="360.37" y2="410.01" stroke="#222" stroke-width="0.6" />
<line x1="358.57" y1="410.01" x2="362.17" y2="410.01" stroke="#222" stroke-width="0.6" />
<line x1="357.77" y1="393.60" x2="362.97" y2="393.60" stroke="#222" stroke-width="0.8" />
<line x1="360.37" y1="393.60" x2="360.37" y2="392.23" stroke="#222" stroke-width="0.6" />
<line x1="358.57" y1="392.23" x2="362.17" y2="392.23" stroke="#222" stroke-width="0.6" />
<line x1="357.77" y1="387.10" x2="362.97" y2="387.10" stroke="#222" stroke-width="0.8" />
<line x1="360.37" y1="387.10" x2="360.37" y2="385.73" stroke="#222" stroke-width="0.6" />
<line x1="358.57" y1="385.73" x2="362.17" y2="385.73" stroke="#222" stroke-width="0.6" />
<line x1="360.37" y1="455.50" x2="360.37" y2="458.10" stroke="#111" stroke-width="0.6" />
<line x1="231.70" y1="385.60" x2="231.70" y2="456.10" stroke="#222" stroke-width="1.35" />
<line x1="227.90" y1="455.50" x2="231.70" y2="455.50" stroke="#111" stroke-width="0.8" />
<text x="225.10" y="457.37" font-size="5.2" fill="#444" stroke="#444" stroke-width="0.05" text-anchor="end" >0</text>
<line x1="227.90" y1="441.82" x2="231.70" y2="441.82" stroke="#111" stroke-width="0.8" />
<text x="225.10" y="443.69" font-size="5.2" fill="#444" stroke="#444" stroke-width="0.05" text-anchor="end" >20</text>
<line x1="227.90" y1="428.14" x2="231.70" y2="428.14" stroke="#111" stroke-width="0.8" />
<text x="225.10" y="430.01" font-size="5.2" fill="#444" stroke="#444" stroke-width="0.05" text-anchor="end" >40</text>
<line x1="227.90" y1="414.46" x2="231.70" y2="414.46" stroke="#111" stroke-width="0.8" />
<text x="225.10" y="416.33" font-size="5.2" fill="#444" stroke="#444" stroke-width="0.05" text-anchor="end" >60</text>
<line x1="227.90" y1="400.78" x2="231.70" y2="400.78" stroke="#111" stroke-width="0.8" />
<text x="225.10" y="402.65" font-size="5.2" fill="#444" stroke="#444" stroke-width="0.05" text-anchor="end" >80</text>
<line x1="227.90" y1="387.10" x2="231.70" y2="387.10" stroke="#111" stroke-width="0.8" />
<text x="225.10" y="388.97" font-size="5.2" fill="#444" stroke="#444" stroke-width="0.05" text-anchor="end" >100</text>
<line x1="231.70" y1="455.50" x2="368.30" y2="455.50" stroke="#222" stroke-width="1.35" />
<text transform="translate(212.00,419.50) rotate(-90)" font-size="7.4" fill="#222" stroke="#222" stroke-width="0.05" text-anchor="middle" textLength="56.30" lengthAdjust="spacingAndGlyphs" >Hemoglobin (%)</text>
<text transform="translate(243.40,464.50) rotate(-47)" font-size="5.5" fill="#222" stroke="#222" stroke-width="0.05" text-anchor="end" textLength="23.00" lengthAdjust="spacingAndGlyphs" >sgAAVS1</text>
<text transform="translate(256.93,465.80) rotate(-47)" font-size="5.5" fill="#222" stroke="#222" stroke-width="0.05" text-anchor="end" textLength="30.50" lengthAdjust="spacingAndGlyphs" >sgIVS1-110A</text>
<text transform="translate(270.06,464.50) rotate(-47)" font-size="5.5" fill="#222" stroke="#222" stroke-width="0.05" text-anchor="end" textLength="23.00" lengthAdjust="spacingAndGlyphs" >sgAAVS1</text>
<text transform="translate(283.59,465.80) rotate(-47)" font-size="5.5" fill="#222" stroke="#222" stroke-width="0.05" text-anchor="end" textLength="30.50" lengthAdjust="spacingAndGlyphs" >sgIVS1-110A</text>
<text transform="translate(296.72,464.50) rotate(-47)" font-size="5.5" fill="#222" stroke="#222" stroke-width="0.05" text-anchor="end" textLength="23.00" lengthAdjust="spacingAndGlyphs" >sgAAVS1</text>
<text transform="translate(310.25,465.80) rotate(-47)" font-size="5.5" fill="#222" stroke="#222" stroke-width="0.05" text-anchor="end" textLength="30.50" lengthAdjust="spacingAndGlyphs" >sgIVS1-110A</text>
<text transform="translate(323.38,464.50) rotate(-47)" font-size="5.5" fill="#222" stroke="#222" stroke-width="0.05" text-anchor="end" textLength="23.00" lengthAdjust="spacingAndGlyphs" >sgAAVS1</text>
<text transform="translate(336.91,465.80) rotate(-47)" font-size="5.5" fill="#222" stroke="#222" stroke-width="0.05" text-anchor="end" textLength="30.50" lengthAdjust="spacingAndGlyphs" >sgIVS1-110A</text>
<text transform="translate(350.04,464.50) rotate(-47)" font-size="5.5" fill="#222" stroke="#222" stroke-width="0.05" text-anchor="end" textLength="23.00" lengthAdjust="spacingAndGlyphs" >sgAAVS1</text>
<text transform="translate(363.57,465.80) rotate(-47)" font-size="5.5" fill="#222" stroke="#222" stroke-width="0.05" text-anchor="end" textLength="30.50" lengthAdjust="spacingAndGlyphs" >sgIVS1-110A</text>
<line x1="221.20" y1="492.80" x2="239.60" y2="492.80" stroke="#555" stroke-width="0.8" />
<text x="223.80" y="501.60" font-size="4.8" fill="#333" stroke="#333" stroke-width="0.1">β<tspan font-size="2.98" dy="-2.02">+</tspan><tspan dy="2.02">β</tspan><tspan font-size="2.98" dy="-2.02">0</tspan><tspan font-size="2.32" dy="3.84">IVS</tspan></text>
<line x1="246.80" y1="492.80" x2="265.20" y2="492.80" stroke="#555" stroke-width="0.8" />
<text x="249.40" y="501.60" font-size="4.8" fill="#333" stroke="#333" stroke-width="0.1">β<tspan font-size="2.98" dy="-2.02">+</tspan><tspan dy="2.02">β</tspan><tspan font-size="2.98" dy="-2.02">0</tspan><tspan font-size="2.32" dy="3.84">IVS</tspan></text>
<line x1="273.10" y1="492.80" x2="291.10" y2="492.80" stroke="#555" stroke-width="0.8" />
<text x="275.70" y="501.60" font-size="4.8" fill="#333" stroke="#333" stroke-width="0.1">β<tspan font-size="2.98" dy="-2.02">+</tspan><tspan dy="2.02">β</tspan><tspan font-size="2.98" dy="-2.02">0</tspan><tspan font-size="2.32" dy="3.84">IVS</tspan></text>
<line x1="299.80" y1="492.80" x2="318.10" y2="492.80" stroke="#555" stroke-width="0.8" />
<text x="302.40" y="501.60" font-size="4.8" fill="#333" stroke="#333" stroke-width="0.1">β<tspan font-size="2.98" dy="-2.02">+</tspan><tspan dy="2.02">β</tspan><tspan font-size="2.98" dy="-2.02">+</tspan></text>
<line x1="326.50" y1="492.80" x2="344.80" y2="492.80" stroke="#555" stroke-width="0.8" />
<text x="329.10" y="501.60" font-size="4.8" fill="#333" stroke="#333" stroke-width="0.1">β<tspan font-size="2.98" dy="-2.02">+</tspan><tspan dy="2.02">β</tspan><tspan font-size="2.98" dy="-2.02">0</tspan><tspan font-size="2.38"> cd41/42</tspan></text>
<line x1="435.20" y1="372.70" x2="442.80" y2="372.70" stroke="#58627a" stroke-width="0.7" />
<path d="M439.00,371.20 L440.50,373.90 L437.50,373.90 Z" fill="#58627a"/>
<text x="445.70" y="374.70" font-size="5.8" fill="#222" stroke="#222" stroke-width="0.05" textLength="21.00" lengthAdjust="spacingAndGlyphs" >sgAAVS1</text>
<line x1="435.20" y1="382.10" x2="442.80" y2="382.10" stroke="#ae2a3c" stroke-width="0.7" />
<circle cx="439.00" cy="382.10" r="1.5" fill="#ae2a3c"/>
<text x="445.70" y="384.10" font-size="5.8" fill="#222" stroke="#222" stroke-width="0.05" textLength="30.60" lengthAdjust="spacingAndGlyphs" >sgIVS1-110A</text>
<line x1="430.00" y1="385.70" x2="430.00" y2="456.30" stroke="#222" stroke-width="1.35" />
<line x1="426.20" y1="455.70" x2="430.00" y2="455.70" stroke="#111" stroke-width="0.8" />
<text x="422.80" y="457.57" font-size="5.2" fill="#444" stroke="#444" stroke-width="0.05" text-anchor="end" >0</text>
<line x1="426.20" y1="442.00" x2="430.00" y2="442.00" stroke="#111" stroke-width="0.8" />
<text x="422.80" y="443.87" font-size="5.2" fill="#444" stroke="#444" stroke-width="0.05" text-anchor="end" >20</text>
<line x1="426.20" y1="428.30" x2="430.00" y2="428.30" stroke="#111" stroke-width="0.8" />
<text x="422.80" y="430.17" font-size="5.2" fill="#444" stroke="#444" stroke-width="0.05" text-anchor="end" >40</text>
<line x1="426.20" y1="414.60" x2="430.00" y2="414.60" stroke="#111" stroke-width="0.8" />
<text x="422.80" y="416.47" font-size="5.2" fill="#444" stroke="#444" stroke-width="0.05" text-anchor="end" >60</text>
<line x1="426.20" y1="400.90" x2="430.00" y2="400.90" stroke="#111" stroke-width="0.8" />
<text x="422.80" y="402.77" font-size="5.2" fill="#444" stroke="#444" stroke-width="0.05" text-anchor="end" >80</text>
<line x1="426.20" y1="387.20" x2="430.00" y2="387.20" stroke="#111" stroke-width="0.8" />
<text x="422.80" y="389.07" font-size="5.2" fill="#444" stroke="#444" stroke-width="0.05" text-anchor="end" >100</text>
<line x1="430.00" y1="455.70" x2="512.60" y2="455.70" stroke="#222" stroke-width="1.35" />
<line x1="435.80" y1="455.70" x2="435.80" y2="458.30" stroke="#111" stroke-width="0.6" />
<line x1="450.20" y1="455.70" x2="450.20" y2="458.30" stroke="#111" stroke-width="0.6" />
<line x1="464.20" y1="455.70" x2="464.20" y2="458.30" stroke="#111" stroke-width="0.6" />
<line x1="477.70" y1="455.70" x2="477.70" y2="458.30" stroke="#111" stroke-width="0.6" />
<line x1="491.50" y1="455.70" x2="491.50" y2="458.30" stroke="#111" stroke-width="0.6" />
<line x1="505.60" y1="455.70" x2="505.60" y2="458.30" stroke="#111" stroke-width="0.6" />
<line x1="433.10" y1="432.41" x2="438.50" y2="422.82" stroke="#111" stroke-width="1.1" />
<path d="M433.10,429.04 L435.10,432.64 L431.10,432.64 Z" fill="#58627a"/>
<path d="M433.10,431.78 L435.10,435.38 L431.10,435.38 Z" fill="#58627a"/>
<circle cx="438.50" cy="421.45" r="1.8" fill="#ae2a3c"/>
<circle cx="438.50" cy="424.19" r="1.8" fill="#ae2a3c"/>
<circle cx="438.50" cy="422.82" r="1.8" fill="#ae2a3c"/>
<line x1="447.50" y1="438.57" x2="452.90" y2="425.79" stroke="#111" stroke-width="1.1" />
<path d="M447.50,436.57 L449.50,440.18 L445.50,440.18 Z" fill="#58627a"/>
<circle cx="452.90" cy="422.82" r="1.8" fill="#ae2a3c"/>
<circle cx="452.90" cy="427.62" r="1.8" fill="#ae2a3c"/>
<circle cx="452.90" cy="426.93" r="1.8" fill="#ae2a3c"/>
<line x1="461.50" y1="433.44" x2="466.90" y2="416.43" stroke="#111" stroke-width="1.1" />
<path d="M461.50,431.09 L463.50,434.69 L459.50,434.69 Z" fill="#58627a"/>
<path d="M461.50,431.78 L463.50,435.38 L459.50,435.38 Z" fill="#58627a"/>
<circle cx="466.90" cy="414.60" r="1.8" fill="#ae2a3c"/>
<circle cx="466.90" cy="416.65" r="1.8" fill="#ae2a3c"/>
<circle cx="466.90" cy="418.02" r="1.8" fill="#ae2a3c"/>
<line x1="475.00" y1="438.57" x2="480.40" y2="418.02" stroke="#111" stroke-width="1.1" />
<path d="M475.00,436.57 L477.00,440.18 L473.00,440.18 Z" fill="#58627a"/>
<circle cx="480.40" cy="415.97" r="1.8" fill="#ae2a3c"/>
<circle cx="480.40" cy="418.02" r="1.8" fill="#ae2a3c"/>
<circle cx="480.40" cy="420.08" r="1.8" fill="#ae2a3c"/>
<line x1="488.80" y1="440.97" x2="494.20" y2="424.19" stroke="#111" stroke-width="1.1" />
<path d="M488.80,438.63 L490.80,442.23 L486.80,442.23 Z" fill="#58627a"/>
<path d="M488.80,439.31 L490.80,442.92 L486.80,442.92 Z" fill="#58627a"/>
<circle cx="494.20" cy="423.50" r="1.8" fill="#ae2a3c"/>
<circle cx="494.20" cy="424.88" r="1.8" fill="#ae2a3c"/>
<line x1="502.90" y1="415.97" x2="508.30" y2="415.28" stroke="#111" stroke-width="0.7" />
<line x1="502.90" y1="425.56" x2="508.30" y2="424.88" stroke="#111" stroke-width="0.7" />
<line x1="502.90" y1="427.62" x2="508.30" y2="427.62" stroke="#111" stroke-width="0.7" />
<path d="M502.90,413.97 L504.90,417.57 L500.90,417.57 Z" fill="#58627a"/>
<path d="M502.90,423.56 L504.90,427.16 L500.90,427.16 Z" fill="#58627a"/>
<path d="M502.90,425.62 L504.90,429.22 L500.90,429.22 Z" fill="#58627a"/>
<circle cx="508.30" cy="415.28" r="1.8" fill="#ae2a3c"/>
<circle cx="508.30" cy="424.88" r="1.8" fill="#ae2a3c"/>
<circle cx="508.30" cy="427.62" r="1.8" fill="#ae2a3c"/>
<text transform="translate(408.40,420.20) rotate(-90)" font-size="7.5" fill="#222" stroke="#222" stroke-width="0.05" text-anchor="middle" textLength="52.70" lengthAdjust="spacingAndGlyphs" >Enucleation (%)</text>
<text transform="translate(438.80,465.20) rotate(-45)" font-size="5.8" fill="#333" stroke="#333" stroke-width="0.1" text-anchor="end">β<tspan font-size="3.60" dy="-2.44">+</tspan><tspan dy="2.44">β</tspan><tspan font-size="3.60" dy="-2.44">0</tspan><tspan font-size="2.80" dy="4.64">IVS</tspan></text>
<text transform="translate(453.20,465.20) rotate(-45)" font-size="5.8" fill="#333" stroke="#333" stroke-width="0.1" text-anchor="end">β<tspan font-size="3.60" dy="-2.44">+</tspan><tspan dy="2.44">β</tspan><tspan font-size="3.60" dy="-2.44">0</tspan><tspan font-size="2.80" dy="4.64">IVS</tspan></text>
<text transform="translate(467.20,465.20) rotate(-45)" font-size="5.8" fill="#333" stroke="#333" stroke-width="0.1" text-anchor="end">β<tspan font-size="3.60" dy="-2.44">+</tspan><tspan dy="2.44">β</tspan><tspan font-size="3.60" dy="-2.44">0</tspan><tspan font-size="2.80" dy="4.64">IVS</tspan></text>
<text transform="translate(480.70,465.20) rotate(-45)" font-size="5.8" fill="#333" stroke="#333" stroke-width="0.1" text-anchor="end">β<tspan font-size="3.60" dy="-2.44">+</tspan><tspan dy="2.44">β</tspan><tspan font-size="3.60" dy="-2.44">+</tspan></text>
<text transform="translate(494.50,465.20) rotate(-45)" font-size="5.8" fill="#333" stroke="#333" stroke-width="0.1" text-anchor="end">β<tspan font-size="3.60" dy="-2.44">+</tspan><tspan dy="2.44">β</tspan><tspan font-size="3.60" dy="-2.44">0</tspan><tspan font-size="2.88"> cd41/42</tspan></text>
<text transform="translate(508.60,465.20) rotate(-45)" font-size="5.8" fill="#333" stroke="#333" stroke-width="0.1" text-anchor="end">β<tspan font-size="3.60" dy="-2.44">A</tspan><tspan dy="2.44">β</tspan><tspan font-size="3.60" dy="-2.44">A</tspan></text>
<text x="427.70" y="490.60" font-size="7.2" fill="#222" stroke="#222" stroke-width="0.05" textLength="87.30" lengthAdjust="spacingAndGlyphs" >Donor β-globin genotype</text>
<line x1="40.60" y1="537.80" x2="48.20" y2="537.80" stroke="#58627a" stroke-width="0.7" />
<path d="M44.40,536.30 L45.90,539.00 L42.90,539.00 Z" fill="#58627a"/>
<text x="51.10" y="539.80" font-size="5.8" fill="#222" stroke="#222" stroke-width="0.05" textLength="21.00" lengthAdjust="spacingAndGlyphs" >sgAAVS1</text>
<line x1="40.60" y1="547.30" x2="48.20" y2="547.30" stroke="#ae2a3c" stroke-width="0.7" />
<circle cx="44.40" cy="547.30" r="1.5" fill="#ae2a3c"/>
<text x="51.10" y="549.30" font-size="5.8" fill="#222" stroke="#222" stroke-width="0.05" textLength="30.60" lengthAdjust="spacingAndGlyphs" >sgIVS1-110A</text>
<line x1="35.30" y1="550.90" x2="35.30" y2="621.80" stroke="#222" stroke-width="1.35" />
<line x1="31.50" y1="621.20" x2="35.30" y2="621.20" stroke="#111" stroke-width="0.8" />
<text x="29.30" y="623.07" font-size="5.2" fill="#444" stroke="#444" stroke-width="0.05" text-anchor="end" >0.5</text>
<line x1="31.50" y1="607.44" x2="35.30" y2="607.44" stroke="#111" stroke-width="0.8" />
<text x="29.30" y="609.31" font-size="5.2" fill="#444" stroke="#444" stroke-width="0.05" text-anchor="end" >0.6</text>
<line x1="31.50" y1="593.68" x2="35.30" y2="593.68" stroke="#111" stroke-width="0.8" />
<text x="29.30" y="595.55" font-size="5.2" fill="#444" stroke="#444" stroke-width="0.05" text-anchor="end" >0.7</text>
<line x1="31.50" y1="579.92" x2="35.30" y2="579.92" stroke="#111" stroke-width="0.8" />
<text x="29.30" y="581.79" font-size="5.2" fill="#444" stroke="#444" stroke-width="0.05" text-anchor="end" >0.8</text>
<line x1="31.50" y1="566.16" x2="35.30" y2="566.16" stroke="#111" stroke-width="0.8" />
<text x="29.30" y="568.03" font-size="5.2" fill="#444" stroke="#444" stroke-width="0.05" text-anchor="end" >0.9</text>
<line x1="31.50" y1="552.40" x2="35.30" y2="552.40" stroke="#111" stroke-width="0.8" />
<text x="29.30" y="554.27" font-size="5.2" fill="#444" stroke="#444" stroke-width="0.05" text-anchor="end" >1.0</text>
<line x1="35.30" y1="621.20" x2="118.30" y2="621.20" stroke="#222" stroke-width="1.35" />
<line x1="41.30" y1="621.20" x2="41.30" y2="623.80" stroke="#111" stroke-width="0.6" />
<line x1="55.20" y1="621.20" x2="55.20" y2="623.80" stroke="#111" stroke-width="0.6" />
<line x1="69.20" y1="621.20" x2="69.20" y2="623.80" stroke="#111" stroke-width="0.6" />
<line x1="83.10" y1="621.20" x2="83.10" y2="623.80" stroke="#111" stroke-width="0.6" />
<line x1="97.10" y1="621.20" x2="97.10" y2="623.80" stroke="#111" stroke-width="0.6" />
<line x1="111.00" y1="621.20" x2="111.00" y2="623.80" stroke="#111" stroke-width="0.6" />
<line x1="38.60" y1="596.43" x2="44.00" y2="564.33" stroke="#111" stroke-width="1.1" />
<path d="M38.60,591.68 L40.60,595.28 L36.60,595.28 Z" fill="#58627a"/>
<path d="M38.60,594.43 L40.60,598.03 L36.60,598.03 Z" fill="#58627a"/>
<path d="M38.60,597.18 L40.60,600.78 L36.60,600.78 Z" fill="#58627a"/>
<circle cx="44.00" cy="562.03" r="1.8" fill="#ae2a3c"/>
<circle cx="44.00" cy="564.78" r="1.8" fill="#ae2a3c"/>
<circle cx="44.00" cy="566.16" r="1.8" fill="#ae2a3c"/>
<line x1="52.50" y1="594.14" x2="57.90" y2="562.49" stroke="#111" stroke-width="1.1" />
<path d="M52.50,590.30 L54.50,593.90 L50.50,593.90 Z" fill="#58627a"/>
<path d="M52.50,591.68 L54.50,595.28 L50.50,595.28 Z" fill="#58627a"/>
<path d="M52.50,594.43 L54.50,598.03 L50.50,598.03 Z" fill="#58627a"/>
<circle cx="57.90" cy="560.66" r="1.8" fill="#ae2a3c"/>
<circle cx="57.90" cy="562.03" r="1.8" fill="#ae2a3c"/>
<circle cx="57.90" cy="564.78" r="1.8" fill="#ae2a3c"/>
<line x1="66.50" y1="590.93" x2="71.90" y2="558.82" stroke="#111" stroke-width="1.1" />
<path d="M66.50,586.18 L68.50,589.78 L64.50,589.78 Z" fill="#58627a"/>
<path d="M66.50,590.30 L68.50,593.90 L64.50,593.90 Z" fill="#58627a"/>
<path d="M66.50,590.30 L68.50,593.90 L64.50,593.90 Z" fill="#58627a"/>
<circle cx="71.90" cy="556.53" r="1.8" fill="#ae2a3c"/>
<circle cx="71.90" cy="559.28" r="1.8" fill="#ae2a3c"/>
<circle cx="71.90" cy="560.66" r="1.8" fill="#ae2a3c"/>
<line x1="80.40" y1="596.89" x2="85.80" y2="563.87" stroke="#111" stroke-width="1.1" />
<path d="M80.40,593.06 L82.40,596.66 L78.40,596.66 Z" fill="#58627a"/>
<path d="M80.40,595.81 L82.40,599.41 L78.40,599.41 Z" fill="#58627a"/>
<path d="M80.40,595.81 L82.40,599.41 L78.40,599.41 Z" fill="#58627a"/>
<circle cx="85.80" cy="560.66" r="1.8" fill="#ae2a3c"/>
<circle cx="85.80" cy="564.78" r="1.8" fill="#ae2a3c"/>
<circle cx="85.80" cy="566.16" r="1.8" fill="#ae2a3c"/>
<line x1="94.40" y1="601.94" x2="99.80" y2="562.49" stroke="#111" stroke-width="1.1" />
<path d="M94.40,597.18 L96.40,600.78 L92.40,600.78 Z" fill="#58627a"/>
<path d="M94.40,602.69 L96.40,606.29 L92.40,606.29 Z" fill="#58627a"/>
<circle cx="99.80" cy="559.28" r="1.8" fill="#ae2a3c"/>
<circle cx="99.80" cy="562.03" r="1.8" fill="#ae2a3c"/>
<circle cx="99.80" cy="566.16" r="1.8" fill="#ae2a3c"/>
<line x1="108.30" y1="553.78" x2="113.70" y2="552.40" stroke="#111" stroke-width="0.7" />
<line x1="108.30" y1="553.78" x2="113.70" y2="553.78" stroke="#111" stroke-width="0.7" />
<path d="M108.30,551.78 L110.30,555.38 L106.30,555.38 Z" fill="#58627a"/>
<path d="M108.30,551.78 L110.30,555.38 L106.30,555.38 Z" fill="#58627a"/>
<circle cx="113.70" cy="552.40" r="1.8" fill="#ae2a3c"/>
<circle cx="113.70" cy="553.78" r="1.8" fill="#ae2a3c"/>
<text transform="translate(15.40,584.90) rotate(-90)" font-size="7.5" fill="#222" stroke="#222" stroke-width="0.05" text-anchor="middle" textLength="59.30" lengthAdjust="spacingAndGlyphs" >Cell size (relative)</text>
<text transform="translate(44.30,630.70) rotate(-45)" font-size="5.8" fill="#333" stroke="#333" stroke-width="0.1" text-anchor="end">β<tspan font-size="3.60" dy="-2.44">+</tspan><tspan dy="2.44">β</tspan><tspan font-size="3.60" dy="-2.44">0</tspan><tspan font-size="2.80" dy="4.64">IVS</tspan></text>
<text transform="translate(58.20,630.70) rotate(-45)" font-size="5.8" fill="#333" stroke="#333" stroke-width="0.1" text-anchor="end">β<tspan font-size="3.60" dy="-2.44">+</tspan><tspan dy="2.44">β</tspan><tspan font-size="3.60" dy="-2.44">0</tspan><tspan font-size="2.80" dy="4.64">IVS</tspan></text>
<text transform="translate(72.20,630.70) rotate(-45)" font-size="5.8" fill="#333" stroke="#333" stroke-width="0.1" text-anchor="end">β<tspan font-size="3.60" dy="-2.44">+</tspan><tspan dy="2.44">β</tspan><tspan font-size="3.60" dy="-2.44">0</tspan><tspan font-size="2.80" dy="4.64">IVS</tspan></text>
<text transform="translate(86.10,630.70) rotate(-45)" font-size="5.8" fill="#333" stroke="#333" stroke-width="0.1" text-anchor="end">β<tspan font-size="3.60" dy="-2.44">+</tspan><tspan dy="2.44">β</tspan><tspan font-size="3.60" dy="-2.44">+</tspan></text>
<text transform="translate(100.10,630.70) rotate(-45)" font-size="5.8" fill="#333" stroke="#333" stroke-width="0.1" text-anchor="end">β<tspan font-size="3.60" dy="-2.44">+</tspan><tspan dy="2.44">β</tspan><tspan font-size="3.60" dy="-2.44">0</tspan><tspan font-size="2.88"> cd41/42</tspan></text>
<text transform="translate(114.00,630.70) rotate(-45)" font-size="5.8" fill="#333" stroke="#333" stroke-width="0.1" text-anchor="end">β<tspan font-size="3.60" dy="-2.44">A</tspan><tspan dy="2.44">β</tspan><tspan font-size="3.60" dy="-2.44">A</tspan></text>
<text x="32.30" y="656.30" font-size="7.2" fill="#222" stroke="#222" stroke-width="0.05" textLength="87.50" lengthAdjust="spacingAndGlyphs" >Donor β-globin genotype</text>
<defs><linearGradient id="gelI" x1="0" y1="0" x2="0" y2="1"><stop offset="0" stop-color="#c9c6c6"/><stop offset="1" stop-color="#c2bfbf"/></linearGradient></defs>
<rect x="157.50" y="570.70" width="218.00" height="46.50" fill="url(#gelI)" />
<rect x="157.9" y="571.1" width="217.20" height="45.70" fill="none" stroke="#ababab" stroke-width="0.8"/>
<g filter="url(#blur1)"><rect x="162.5" y="573.80" width="10.0" height="2.0" fill="#1a1a1a" opacity="1.0" rx="0.5"/><rect x="162.5" y="576.60" width="10.0" height="1.4" fill="#1a1a1a" opacity="0.45" rx="0.5"/><rect x="162.5" y="578.60" width="10.0" height="1.2" fill="#1a1a1a" opacity="0.4" rx="0.5"/><rect x="162.5" y="580.80" width="10.0" height="1.6" fill="#1a1a1a" opacity="0.95" rx="0.5"/><rect x="162.5" y="583.10" width="10.0" height="1.4" fill="#1a1a1a" opacity="0.4" rx="0.5"/><rect x="162.5" y="585.10" width="10.0" height="1.4" fill="#1a1a1a" opacity="0.4" rx="0.5"/><rect x="162.5" y="588.40" width="10.0" height="1.6" fill="#1a1a1a" opacity="0.95" rx="0.5"/><rect x="162.5" y="591.50" width="10.0" height="1.2" fill="#1a1a1a" opacity="0.8" rx="0.5"/><rect x="162.5" y="595.85" width="10.0" height="1.1" fill="#1a1a1a" opacity="0.6" rx="0.5"/><rect x="162.5" y="601.75" width="10.0" height="1.1" fill="#1a1a1a" opacity="0.55" rx="0.5"/><rect x="162.5" y="610.50" width="10.0" height="1.4" fill="#1a1a1a" opacity="0.45" rx="0.5"/><rect x="174.30" y="610.1" width="10.6" height="2.2" rx="0.9" fill="#111" opacity="0.95"/><rect x="186.63" y="606.6" width="10.4" height="2.4" rx="0.8" fill="#444" opacity="0.55"/><rect x="186.63" y="609.9" width="10.4" height="2.2" rx="0.9" fill="#222" opacity="0.7"/><rect x="198.96" y="610.1" width="10.6" height="2.2" rx="0.9" fill="#111" opacity="0.95"/><rect x="211.29" y="610.1" width="10.6" height="2.2" rx="0.9" fill="#111" opacity="0.95"/><rect x="223.62" y="610.1" width="10.6" height="2.2" rx="0.9" fill="#111" opacity="0.95"/><rect x="235.95" y="610.1" width="10.6" height="2.2" rx="0.9" fill="#111" opacity="0.95"/><rect x="248.28" y="610.1" width="10.6" height="2.2" rx="0.9" fill="#111" opacity="0.95"/><rect x="260.61" y="606.6" width="10.4" height="2.4" rx="0.8" fill="#444" opacity="0.55"/><rect x="260.61" y="609.9" width="10.4" height="2.2" rx="0.9" fill="#222" opacity="0.7"/><rect x="272.94" y="610.1" width="10.6" height="2.2" rx="0.9" fill="#111" opacity="0.95"/><rect x="285.27" y="610.1" width="10.6" height="2.2" rx="0.9" fill="#111" opacity="0.95"/><rect x="297.60" y="610.1" width="10.6" height="2.2" rx="0.9" fill="#111" opacity="0.95"/><rect x="309.93" y="610.1" width="10.6" height="2.2" rx="0.9" fill="#111" opacity="0.95"/><rect x="322.26" y="610.1" width="10.6" height="2.2" rx="0.9" fill="#111" opacity="0.95"/><rect x="334.59" y="610.1" width="10.6" height="2.2" rx="0.9" fill="#111" opacity="0.95"/><rect x="346.92" y="610.1" width="10.6" height="2.2" rx="0.9" fill="#111" opacity="0.95"/><rect x="359.25" y="610.1" width="10.6" height="2.2" rx="0.9" fill="#111" opacity="0.95"/></g>
<text x="150.00" y="591.10" font-size="5.2" fill="#222" stroke="#222" stroke-width="0.05" text-anchor="end" textLength="14.50" lengthAdjust="spacingAndGlyphs" >500bp</text>
<line x1="152.00" y1="589.30" x2="156.50" y2="589.30" stroke="#111" stroke-width="0.8" />
<text x="150.00" y="603.10" font-size="5.2" fill="#222" stroke="#222" stroke-width="0.05" text-anchor="end" textLength="14.50" lengthAdjust="spacingAndGlyphs" >200bp</text>
<line x1="152.00" y1="601.30" x2="156.50" y2="601.30" stroke="#111" stroke-width="0.8" />
<text x="150.00" y="613.10" font-size="5.2" fill="#222" stroke="#222" stroke-width="0.05" text-anchor="end" textLength="14.50" lengthAdjust="spacingAndGlyphs" >100bp</text>
<line x1="152.00" y1="611.30" x2="156.50" y2="611.30" stroke="#111" stroke-width="0.8" />
<line x1="376.20" y1="606.00" x2="379.80" y2="606.00" stroke="#111" stroke-width="0.7" />
<line x1="376.20" y1="608.60" x2="379.80" y2="608.60" stroke="#111" stroke-width="0.7" />
<line x1="376.20" y1="611.00" x2="379.80" y2="611.00" stroke="#111" stroke-width="0.7" />
<text x="381.00" y="608.00" font-size="5.2" fill="#222" stroke="#222" stroke-width="0.05" >A</text>
<text x="381.00" y="615.00" font-size="5.2" fill="#222" stroke="#222" stroke-width="0.05" >N</text>
<text transform="translate(190.93,568.80) rotate(-45)" font-size="5.5" fill="#222" stroke="#222" stroke-width="0.05" textLength="22.00" lengthAdjust="spacingAndGlyphs" >sgAAVS1</text>
<text transform="translate(203.26,568.80) rotate(-45)" font-size="5.5" fill="#222" stroke="#222" stroke-width="0.05" textLength="31.00" lengthAdjust="spacingAndGlyphs" >sgIVS1-110A</text>
<text transform="translate(215.59,568.80) rotate(-45)" font-size="5.5" fill="#222" stroke="#222" stroke-width="0.05" textLength="12.50" lengthAdjust="spacingAndGlyphs" >+1(A)</text>
<text transform="translate(227.92,568.80) rotate(-45)" font-size="5.5" fill="#222" stroke="#222" stroke-width="0.05" textLength="12.50" lengthAdjust="spacingAndGlyphs" >+1(A)</text>
<text transform="translate(240.25,568.80) rotate(-45)" font-size="5.5" fill="#222" stroke="#222" stroke-width="0.05" textLength="12.50" lengthAdjust="spacingAndGlyphs" >+1(A)</text>
<text transform="translate(252.58,568.80) rotate(-45)" font-size="5.5" fill="#222" stroke="#222" stroke-width="0.05" textLength="12.50" lengthAdjust="spacingAndGlyphs" >+1(A)</text>
<text transform="translate(264.91,568.80) rotate(-45)" font-size="5.5" fill="#222" stroke="#222" stroke-width="0.05" >0</text>
<text transform="translate(277.24,568.80) rotate(-45)" font-size="5.5" fill="#222" stroke="#222" stroke-width="0.05" >-1</text>
<text transform="translate(289.57,568.80) rotate(-45)" font-size="5.5" fill="#222" stroke="#222" stroke-width="0.05" >-1</text>
<text transform="translate(301.90,568.80) rotate(-45)" font-size="5.5" fill="#222" stroke="#222" stroke-width="0.05" >-5</text>
<text transform="translate(314.23,568.80) rotate(-45)" font-size="5.5" fill="#222" stroke="#222" stroke-width="0.05" >-7</text>
<text transform="translate(326.56,568.80) rotate(-45)" font-size="5.5" fill="#222" stroke="#222" stroke-width="0.05" >-8</text>
<text transform="translate(338.89,568.80) rotate(-45)" font-size="5.5" fill="#222" stroke="#222" stroke-width="0.05" >-8</text>
<text transform="translate(351.22,568.80) rotate(-45)" font-size="5.5" fill="#222" stroke="#222" stroke-width="0.05" >-12</text>
<text transform="translate(363.55,568.80) rotate(-45)" font-size="5.5" fill="#222" stroke="#222" stroke-width="0.05" >-16</text>
<line x1="174.20" y1="620.30" x2="184.60" y2="620.30" stroke="#555" stroke-width="0.7" />
<line x1="187.00" y1="620.30" x2="210.50" y2="620.30" stroke="#555" stroke-width="0.7" />
<line x1="212.30" y1="620.30" x2="371.50" y2="620.30" stroke="#555" stroke-width="0.7" />
<text x="174.60" y="627.60" font-size="4.8" fill="#333" stroke="#333" stroke-width="0.1">β<tspan font-size="2.98" dy="-2.02">+</tspan><tspan dy="2.02">β</tspan><tspan font-size="2.98" dy="-2.02">+</tspan></text>
<text x="189.50" y="627.60" font-size="4.8" fill="#333" stroke="#333" stroke-width="0.1">β<tspan font-size="2.98" dy="-2.02">+</tspan><tspan dy="2.02">β</tspan><tspan font-size="2.98" dy="-2.02">0</tspan><tspan font-size="2.32" dy="3.84">IVS</tspan><tspan dy="-1.82"> bulk</tspan></text>
<text x="260.50" y="627.60" font-size="4.8" fill="#333" stroke="#333" stroke-width="0.1">β<tspan font-size="2.98" dy="-2.02">+</tspan><tspan dy="2.02">β</tspan><tspan font-size="2.98" dy="-2.02">0</tspan><tspan font-size="2.32" dy="3.84">IVS</tspan><tspan dy="-1.82"> single clone</tspan></text>
<rect x="413.80" y="532.50" width="6.70" height="3.80" fill="#4b7b63" />
<text x="423.00" y="536.30" font-size="5.5" fill="#222" stroke="#222" stroke-width="0.05" >Edited</text>
<rect x="413.80" y="540.00" width="6.70" height="3.80" fill="#b07a42" />
<text x="423.00" y="543.80" font-size="5.5" fill="#222" stroke="#222" stroke-width="0.05" >Unedited IVS1-110 G&gt;A</text>
<rect x="433.70" y="609.08" width="8.30" height="12.02" fill="#b07a42" />
<rect x="433.70" y="552.40" width="8.30" height="56.68" fill="#4b7b63" />
<line x1="435.20" y1="609.08" x2="440.50" y2="609.08" stroke="#333" stroke-width="0.6" />
<line x1="435.20" y1="552.40" x2="440.50" y2="552.40" stroke="#333" stroke-width="0.6" />
<line x1="437.85" y1="621.10" x2="437.85" y2="623.70" stroke="#111" stroke-width="0.6" />
<rect x="445.50" y="614.71" width="8.30" height="6.39" fill="#b07a42" />
<rect x="445.50" y="552.40" width="8.30" height="62.31" fill="#4b7b63" />
<line x1="447.00" y1="614.71" x2="452.30" y2="614.71" stroke="#333" stroke-width="0.6" />
<line x1="447.00" y1="552.40" x2="452.30" y2="552.40" stroke="#333" stroke-width="0.6" />
<line x1="449.65" y1="621.10" x2="449.65" y2="623.70" stroke="#111" stroke-width="0.6" />
<line x1="430.20" y1="550.90" x2="430.20" y2="621.70" stroke="#222" stroke-width="1.35" />
<line x1="426.40" y1="621.10" x2="430.20" y2="621.10" stroke="#111" stroke-width="0.8" />
<text x="422.80" y="622.97" font-size="5.2" fill="#444" stroke="#444" stroke-width="0.05" text-anchor="end" >0</text>
<line x1="426.40" y1="607.36" x2="430.20" y2="607.36" stroke="#111" stroke-width="0.8" />
<text x="422.80" y="609.23" font-size="5.2" fill="#444" stroke="#444" stroke-width="0.05" text-anchor="end" >20</text>
<line x1="426.40" y1="593.62" x2="430.20" y2="593.62" stroke="#111" stroke-width="0.8" />
<text x="422.80" y="595.49" font-size="5.2" fill="#444" stroke="#444" stroke-width="0.05" text-anchor="end" >40</text>
<line x1="426.40" y1="579.88" x2="430.20" y2="579.88" stroke="#111" stroke-width="0.8" />
<text x="422.80" y="581.75" font-size="5.2" fill="#444" stroke="#444" stroke-width="0.05" text-anchor="end" >60</text>
<line x1="426.40" y1="566.14" x2="430.20" y2="566.14" stroke="#111" stroke-width="0.8" />
<text x="422.80" y="568.01" font-size="5.2" fill="#444" stroke="#444" stroke-width="0.05" text-anchor="end" >80</text>
<line x1="426.40" y1="552.40" x2="430.20" y2="552.40" stroke="#111" stroke-width="0.8" />
<text x="422.80" y="554.27" font-size="5.2" fill="#444" stroke="#444" stroke-width="0.05" text-anchor="end" >100</text>
<line x1="430.20" y1="621.10" x2="460.50" y2="621.10" stroke="#222" stroke-width="1.35" />
<text transform="translate(410.80,585.20) rotate(-90)" font-size="8.2" fill="#222" stroke="#222" stroke-width="0.05" text-anchor="middle" textLength="34.80" lengthAdjust="spacingAndGlyphs" >Alleles (%)</text>
<text transform="translate(440.50,630.00) rotate(-50)" font-size="5.5" fill="#222" stroke="#222" stroke-width="0.05" text-anchor="end" >HSC</text>
<text transform="translate(452.30,630.00) rotate(-50)" font-size="5.5" fill="#222" stroke="#222" stroke-width="0.05" text-anchor="end" >HPC</text>
<rect x="0.00" y="0.00" width="520.00" height="1.70" fill="#4d4d4d" />
<rect x="0.00" y="0.00" width="1.80" height="668.00" fill="#4d4d4d" />
<rect x="518.80" y="1.70" width="1.20" height="668.00" fill="#050505" />
<rect x="0.00" y="666.00" width="520.00" height="2.00" fill="#4d4d4d" />
</svg>
</body></html>
